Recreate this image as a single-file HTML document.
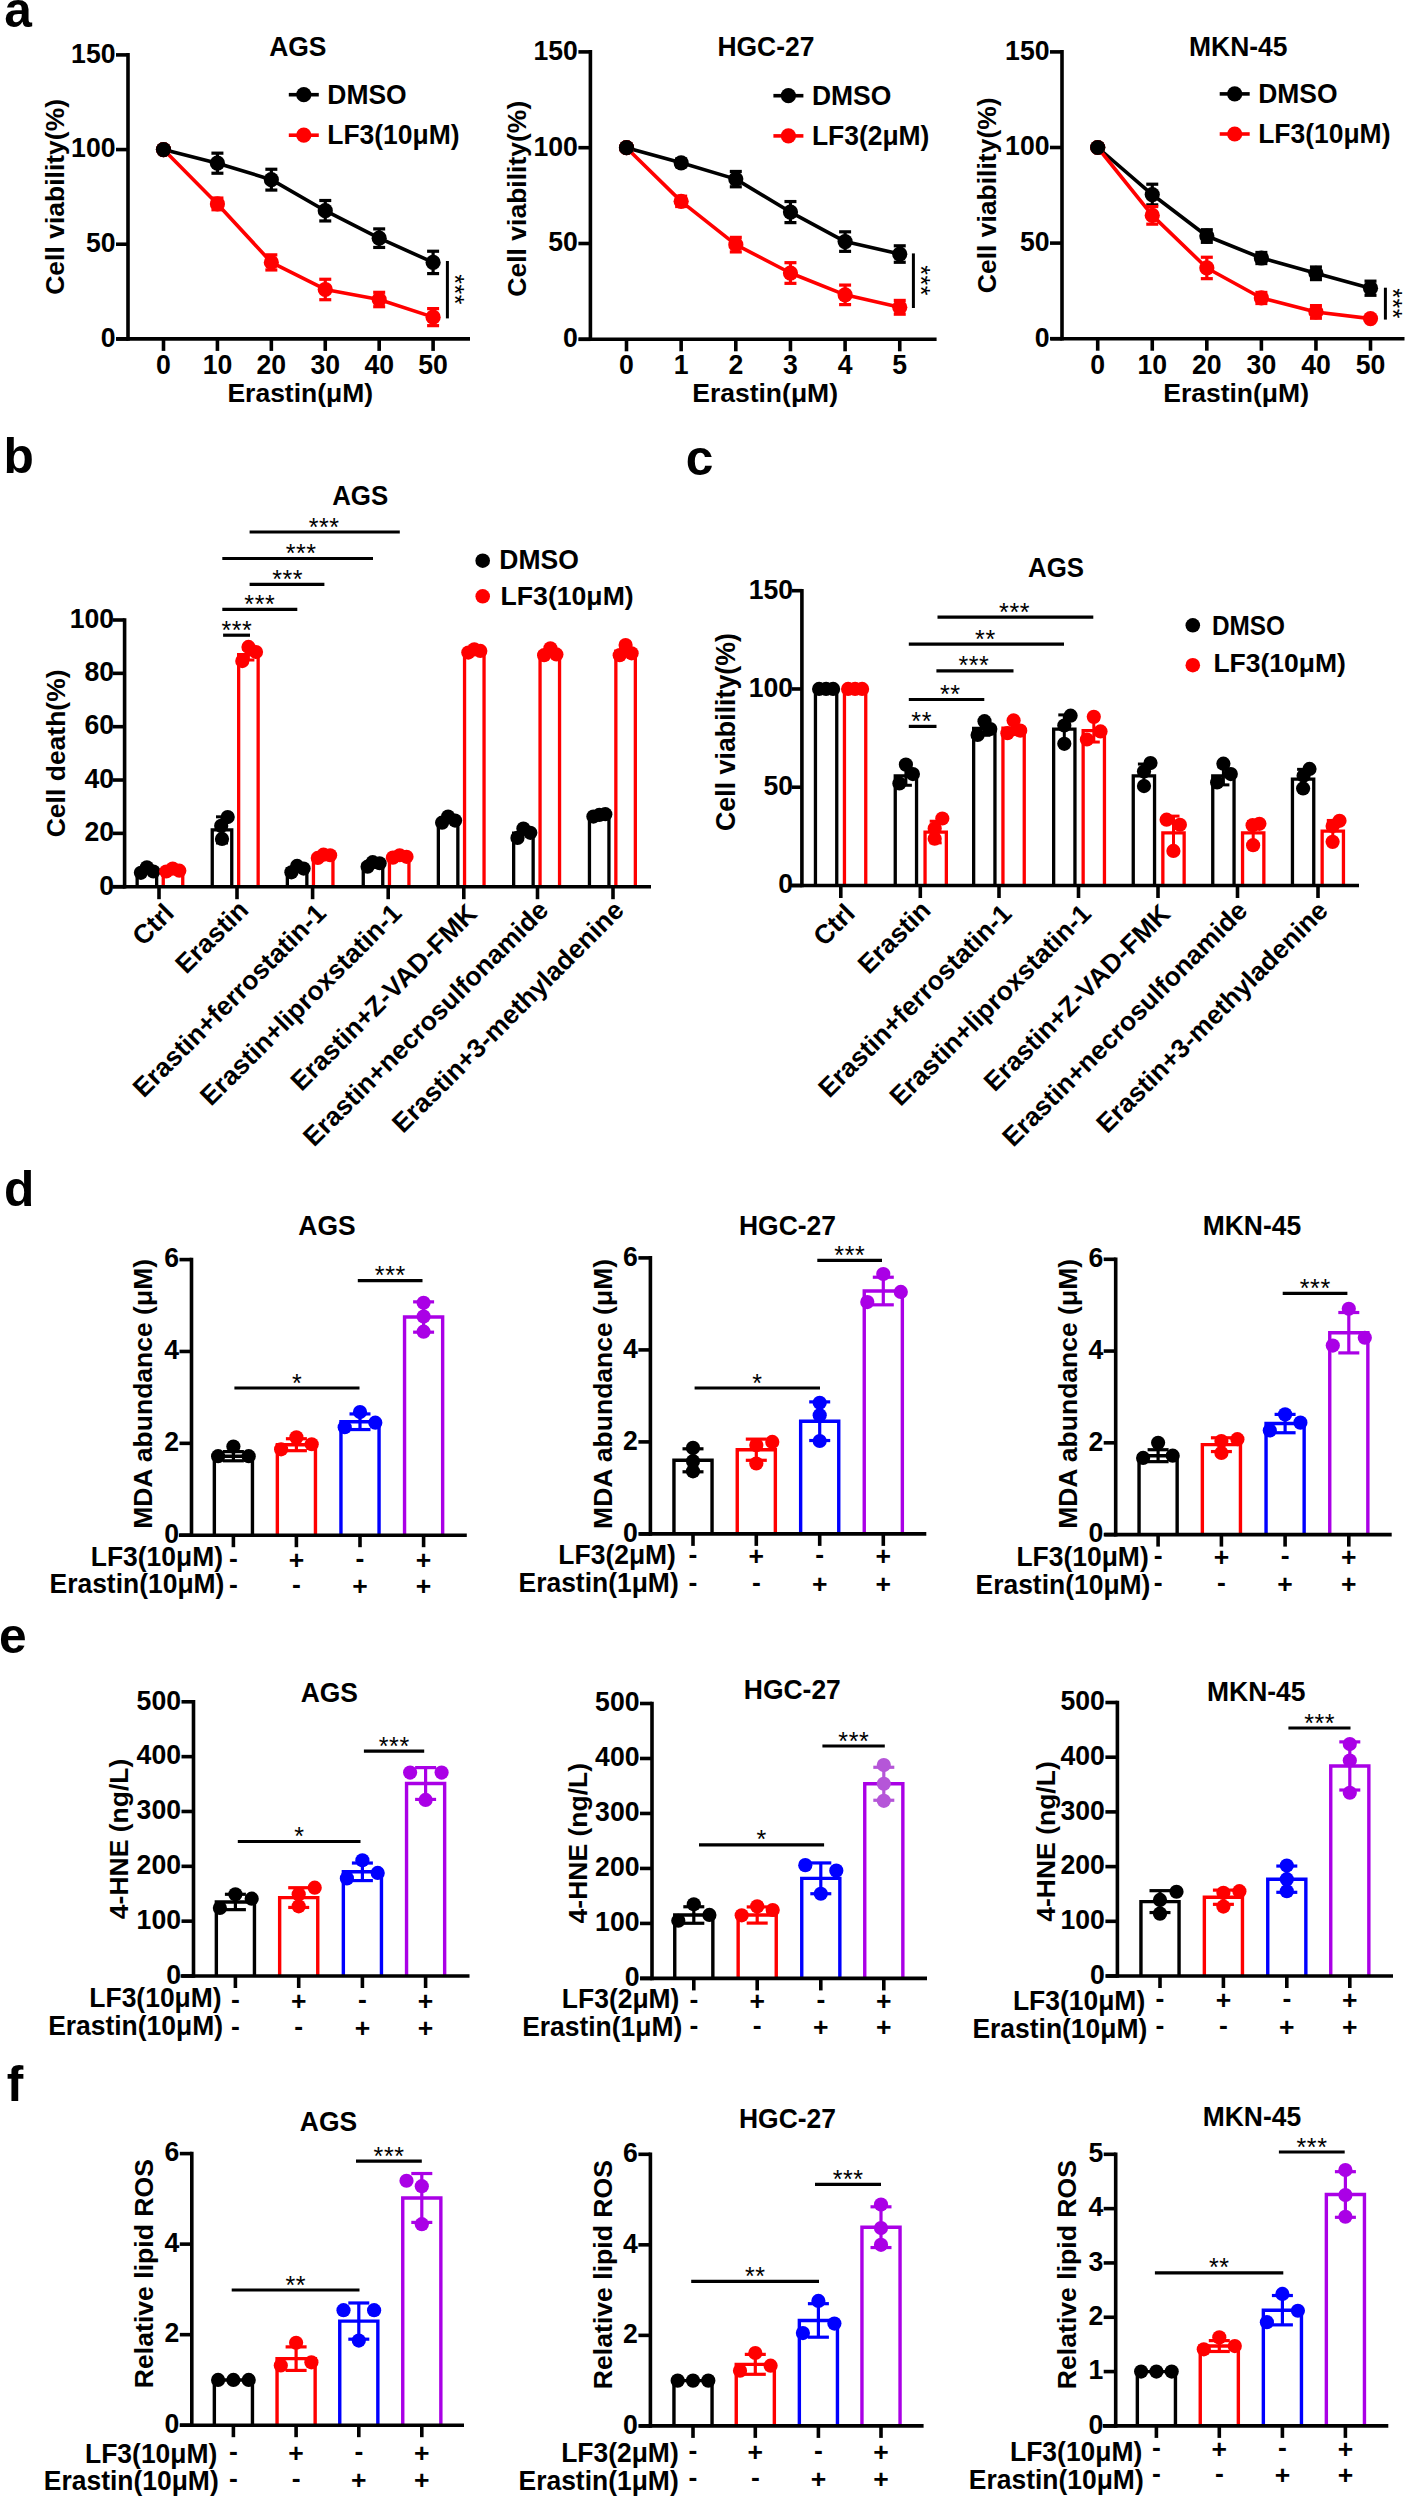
<!DOCTYPE html>
<html><head><meta charset="utf-8"><title>Figure</title>
<style>
html,body{margin:0;padding:0;background:#fff;}
svg{display:block;}
text{font-family:"Liberation Sans", sans-serif;font-weight:bold;}
</style></head>
<body>
<svg width="1409" height="2497" viewBox="0 0 1409 2497">
<rect width="1409" height="2497" fill="#fff"/>
<line x1="116.00" y1="338.90" x2="128.00" y2="338.90" stroke="#000" stroke-width="3.6"/>
<text x="0.00" y="0.00" font-size="27.3" text-anchor="end" transform="translate(115.50 346.70) scale(0.975 1)">0</text>
<line x1="116.00" y1="244.23" x2="128.00" y2="244.23" stroke="#000" stroke-width="3.6"/>
<text x="0.00" y="0.00" font-size="27.3" text-anchor="end" transform="translate(115.50 252.03) scale(0.975 1)">50</text>
<line x1="116.00" y1="149.57" x2="128.00" y2="149.57" stroke="#000" stroke-width="3.6"/>
<text x="0.00" y="0.00" font-size="27.3" text-anchor="end" transform="translate(115.50 157.37) scale(0.975 1)">100</text>
<line x1="116.00" y1="54.90" x2="128.00" y2="54.90" stroke="#000" stroke-width="3.6"/>
<text x="0.00" y="0.00" font-size="27.3" text-anchor="end" transform="translate(115.50 62.70) scale(0.975 1)">150</text>
<line x1="163.50" y1="338.90" x2="163.50" y2="350.90" stroke="#000" stroke-width="3.6"/>
<text x="0.00" y="0.00" font-size="27.3" text-anchor="middle" transform="translate(163.50 373.90) scale(0.975 1)">0</text>
<line x1="217.42" y1="338.90" x2="217.42" y2="350.90" stroke="#000" stroke-width="3.6"/>
<text x="0.00" y="0.00" font-size="27.3" text-anchor="middle" transform="translate(217.42 373.90) scale(0.975 1)">10</text>
<line x1="271.34" y1="338.90" x2="271.34" y2="350.90" stroke="#000" stroke-width="3.6"/>
<text x="0.00" y="0.00" font-size="27.3" text-anchor="middle" transform="translate(271.34 373.90) scale(0.975 1)">20</text>
<line x1="325.26" y1="338.90" x2="325.26" y2="350.90" stroke="#000" stroke-width="3.6"/>
<text x="0.00" y="0.00" font-size="27.3" text-anchor="middle" transform="translate(325.26 373.90) scale(0.975 1)">30</text>
<line x1="379.18" y1="338.90" x2="379.18" y2="350.90" stroke="#000" stroke-width="3.6"/>
<text x="0.00" y="0.00" font-size="27.3" text-anchor="middle" transform="translate(379.18 373.90) scale(0.975 1)">40</text>
<line x1="433.10" y1="338.90" x2="433.10" y2="350.90" stroke="#000" stroke-width="3.6"/>
<text x="0.00" y="0.00" font-size="27.3" text-anchor="middle" transform="translate(433.10 373.90) scale(0.975 1)">50</text>
<text x="300.30" y="401.90" font-size="26.5" text-anchor="middle">Erastin(μM)</text>
<text x="63.90" y="196.90" font-size="26.5" text-anchor="middle" transform="rotate(-90 63.90 196.90)">Cell viability(%)</text>
<text x="0.00" y="0.00" font-size="27.5" text-anchor="middle" transform="translate(297.80 56.40) scale(0.962 1)">AGS</text>
<polyline points="163.50,149.57 217.42,163.20 271.34,179.67 325.26,210.72 379.18,238.17 433.10,262.41" fill="none" stroke="#000" stroke-width="3.6" stroke-linejoin="round"/>
<circle cx="163.50" cy="149.57" r="7.6" fill="#000"/>
<line x1="217.42" y1="153.16" x2="217.42" y2="173.23" stroke="#000" stroke-width="3.2"/>
<line x1="211.42" y1="153.16" x2="223.42" y2="153.16" stroke="#000" stroke-width="3.2"/>
<line x1="211.42" y1="173.23" x2="223.42" y2="173.23" stroke="#000" stroke-width="3.2"/>
<circle cx="217.42" cy="163.20" r="7.6" fill="#000"/>
<line x1="271.34" y1="169.26" x2="271.34" y2="190.08" stroke="#000" stroke-width="3.2"/>
<line x1="265.34" y1="169.26" x2="277.34" y2="169.26" stroke="#000" stroke-width="3.2"/>
<line x1="265.34" y1="190.08" x2="277.34" y2="190.08" stroke="#000" stroke-width="3.2"/>
<circle cx="271.34" cy="179.67" r="7.6" fill="#000"/>
<line x1="325.26" y1="200.50" x2="325.26" y2="220.95" stroke="#000" stroke-width="3.2"/>
<line x1="319.26" y1="200.50" x2="331.26" y2="200.50" stroke="#000" stroke-width="3.2"/>
<line x1="319.26" y1="220.95" x2="331.26" y2="220.95" stroke="#000" stroke-width="3.2"/>
<circle cx="325.26" cy="210.72" r="7.6" fill="#000"/>
<line x1="379.18" y1="228.90" x2="379.18" y2="247.45" stroke="#000" stroke-width="3.2"/>
<line x1="373.18" y1="228.90" x2="385.18" y2="228.90" stroke="#000" stroke-width="3.2"/>
<line x1="373.18" y1="247.45" x2="385.18" y2="247.45" stroke="#000" stroke-width="3.2"/>
<circle cx="379.18" cy="238.17" r="7.6" fill="#000"/>
<line x1="433.10" y1="251.24" x2="433.10" y2="273.58" stroke="#000" stroke-width="3.2"/>
<line x1="427.10" y1="251.24" x2="439.10" y2="251.24" stroke="#000" stroke-width="3.2"/>
<line x1="427.10" y1="273.58" x2="439.10" y2="273.58" stroke="#000" stroke-width="3.2"/>
<circle cx="433.10" cy="262.41" r="7.6" fill="#000"/>
<polyline points="163.50,149.57 217.42,203.91 271.34,262.41 325.26,289.48 379.18,299.52 433.10,317.13" fill="none" stroke="#ff0000" stroke-width="3.6" stroke-linejoin="round"/>
<circle cx="163.50" cy="149.57" r="7.6" fill="#ff0000"/>
<line x1="217.42" y1="198.04" x2="217.42" y2="209.77" stroke="#ff0000" stroke-width="3.2"/>
<line x1="211.42" y1="198.04" x2="223.42" y2="198.04" stroke="#ff0000" stroke-width="3.2"/>
<line x1="211.42" y1="209.77" x2="223.42" y2="209.77" stroke="#ff0000" stroke-width="3.2"/>
<circle cx="217.42" cy="203.91" r="7.6" fill="#ff0000"/>
<line x1="271.34" y1="254.84" x2="271.34" y2="269.98" stroke="#ff0000" stroke-width="3.2"/>
<line x1="265.34" y1="254.84" x2="277.34" y2="254.84" stroke="#ff0000" stroke-width="3.2"/>
<line x1="265.34" y1="269.98" x2="277.34" y2="269.98" stroke="#ff0000" stroke-width="3.2"/>
<circle cx="271.34" cy="262.41" r="7.6" fill="#ff0000"/>
<line x1="325.26" y1="279.26" x2="325.26" y2="299.71" stroke="#ff0000" stroke-width="3.2"/>
<line x1="319.26" y1="279.26" x2="331.26" y2="279.26" stroke="#ff0000" stroke-width="3.2"/>
<line x1="319.26" y1="299.71" x2="331.26" y2="299.71" stroke="#ff0000" stroke-width="3.2"/>
<circle cx="325.26" cy="289.48" r="7.6" fill="#ff0000"/>
<line x1="379.18" y1="292.32" x2="379.18" y2="306.71" stroke="#ff0000" stroke-width="3.2"/>
<line x1="373.18" y1="292.32" x2="385.18" y2="292.32" stroke="#ff0000" stroke-width="3.2"/>
<line x1="373.18" y1="306.71" x2="385.18" y2="306.71" stroke="#ff0000" stroke-width="3.2"/>
<circle cx="379.18" cy="299.52" r="7.6" fill="#ff0000"/>
<line x1="433.10" y1="308.61" x2="433.10" y2="325.65" stroke="#ff0000" stroke-width="3.2"/>
<line x1="427.10" y1="308.61" x2="439.10" y2="308.61" stroke="#ff0000" stroke-width="3.2"/>
<line x1="427.10" y1="325.65" x2="439.10" y2="325.65" stroke="#ff0000" stroke-width="3.2"/>
<circle cx="433.10" cy="317.13" r="7.6" fill="#ff0000"/>
<circle cx="163.50" cy="149.57" r="7.6" fill="#000"/>
<line x1="288.80" y1="94.70" x2="318.80" y2="94.70" stroke="#000" stroke-width="3.6"/>
<circle cx="303.80" cy="94.70" r="7.6" fill="#000"/>
<text x="0.00" y="0.00" font-size="27.5" transform="translate(327.30 103.60) scale(0.962 1)">DMSO</text>
<line x1="288.80" y1="135.20" x2="318.80" y2="135.20" stroke="#ff0000" stroke-width="3.6"/>
<circle cx="303.80" cy="135.20" r="7.6" fill="#ff0000"/>
<text x="0.00" y="0.00" font-size="27.5" transform="translate(327.30 144.10) scale(0.962 1)">LF3(10μM)</text>
<line x1="447.40" y1="261.00" x2="447.40" y2="318.40" stroke="#000" stroke-width="3.0"/>
<text x="445.90" y="289.70" font-size="25" text-anchor="middle" style="font-weight:normal" transform="rotate(90 445.90 289.70)" letter-spacing="0.6">***</text>
<line x1="578.40" y1="339.30" x2="590.40" y2="339.30" stroke="#000" stroke-width="3.6"/>
<text x="0.00" y="0.00" font-size="27.3" text-anchor="end" transform="translate(577.90 347.10) scale(0.975 1)">0</text>
<line x1="578.40" y1="243.50" x2="590.40" y2="243.50" stroke="#000" stroke-width="3.6"/>
<text x="0.00" y="0.00" font-size="27.3" text-anchor="end" transform="translate(577.90 251.30) scale(0.975 1)">50</text>
<line x1="578.40" y1="147.70" x2="590.40" y2="147.70" stroke="#000" stroke-width="3.6"/>
<text x="0.00" y="0.00" font-size="27.3" text-anchor="end" transform="translate(577.90 155.50) scale(0.975 1)">100</text>
<line x1="578.40" y1="51.90" x2="590.40" y2="51.90" stroke="#000" stroke-width="3.6"/>
<text x="0.00" y="0.00" font-size="27.3" text-anchor="end" transform="translate(577.90 59.70) scale(0.975 1)">150</text>
<line x1="626.50" y1="339.30" x2="626.50" y2="351.30" stroke="#000" stroke-width="3.6"/>
<text x="0.00" y="0.00" font-size="27.3" text-anchor="middle" transform="translate(626.50 374.30) scale(0.975 1)">0</text>
<line x1="681.15" y1="339.30" x2="681.15" y2="351.30" stroke="#000" stroke-width="3.6"/>
<text x="0.00" y="0.00" font-size="27.3" text-anchor="middle" transform="translate(681.15 374.30) scale(0.975 1)">1</text>
<line x1="735.80" y1="339.30" x2="735.80" y2="351.30" stroke="#000" stroke-width="3.6"/>
<text x="0.00" y="0.00" font-size="27.3" text-anchor="middle" transform="translate(735.80 374.30) scale(0.975 1)">2</text>
<line x1="790.45" y1="339.30" x2="790.45" y2="351.30" stroke="#000" stroke-width="3.6"/>
<text x="0.00" y="0.00" font-size="27.3" text-anchor="middle" transform="translate(790.45 374.30) scale(0.975 1)">3</text>
<line x1="845.10" y1="339.30" x2="845.10" y2="351.30" stroke="#000" stroke-width="3.6"/>
<text x="0.00" y="0.00" font-size="27.3" text-anchor="middle" transform="translate(845.10 374.30) scale(0.975 1)">4</text>
<line x1="899.75" y1="339.30" x2="899.75" y2="351.30" stroke="#000" stroke-width="3.6"/>
<text x="0.00" y="0.00" font-size="27.3" text-anchor="middle" transform="translate(899.75 374.30) scale(0.975 1)">5</text>
<text x="765.12" y="402.30" font-size="26.5" text-anchor="middle">Erastin(μM)</text>
<text x="526.50" y="198.70" font-size="26.5" text-anchor="middle" transform="rotate(-90 526.50 198.70)">Cell viability(%)</text>
<text x="0.00" y="0.00" font-size="27.5" text-anchor="middle" transform="translate(765.90 56.00) scale(0.962 1)">HGC-27</text>
<polyline points="626.50,147.70 681.15,162.84 735.80,179.12 790.45,212.08 845.10,241.58 899.75,254.04" fill="none" stroke="#000" stroke-width="3.6" stroke-linejoin="round"/>
<circle cx="626.50" cy="147.70" r="7.6" fill="#000"/>
<line x1="681.15" y1="159.00" x2="681.15" y2="166.67" stroke="#000" stroke-width="3.2"/>
<line x1="675.15" y1="159.00" x2="687.15" y2="159.00" stroke="#000" stroke-width="3.2"/>
<line x1="675.15" y1="166.67" x2="687.15" y2="166.67" stroke="#000" stroke-width="3.2"/>
<circle cx="681.15" cy="162.84" r="7.6" fill="#000"/>
<line x1="735.80" y1="171.46" x2="735.80" y2="186.79" stroke="#000" stroke-width="3.2"/>
<line x1="729.80" y1="171.46" x2="741.80" y2="171.46" stroke="#000" stroke-width="3.2"/>
<line x1="729.80" y1="186.79" x2="741.80" y2="186.79" stroke="#000" stroke-width="3.2"/>
<circle cx="735.80" cy="179.12" r="7.6" fill="#000"/>
<line x1="790.45" y1="201.54" x2="790.45" y2="222.62" stroke="#000" stroke-width="3.2"/>
<line x1="784.45" y1="201.54" x2="796.45" y2="201.54" stroke="#000" stroke-width="3.2"/>
<line x1="784.45" y1="222.62" x2="796.45" y2="222.62" stroke="#000" stroke-width="3.2"/>
<circle cx="790.45" cy="212.08" r="7.6" fill="#000"/>
<line x1="845.10" y1="231.81" x2="845.10" y2="251.36" stroke="#000" stroke-width="3.2"/>
<line x1="839.10" y1="231.81" x2="851.10" y2="231.81" stroke="#000" stroke-width="3.2"/>
<line x1="839.10" y1="251.36" x2="851.10" y2="251.36" stroke="#000" stroke-width="3.2"/>
<circle cx="845.10" cy="241.58" r="7.6" fill="#000"/>
<line x1="899.75" y1="245.80" x2="899.75" y2="262.28" stroke="#000" stroke-width="3.2"/>
<line x1="893.75" y1="245.80" x2="905.75" y2="245.80" stroke="#000" stroke-width="3.2"/>
<line x1="893.75" y1="262.28" x2="905.75" y2="262.28" stroke="#000" stroke-width="3.2"/>
<circle cx="899.75" cy="254.04" r="7.6" fill="#000"/>
<polyline points="626.50,147.70 681.15,201.35 735.80,244.65 790.45,273.01 845.10,294.85 899.75,307.30" fill="none" stroke="#ff0000" stroke-width="3.6" stroke-linejoin="round"/>
<circle cx="626.50" cy="147.70" r="7.6" fill="#ff0000"/>
<line x1="681.15" y1="196.17" x2="681.15" y2="206.52" stroke="#ff0000" stroke-width="3.2"/>
<line x1="675.15" y1="196.17" x2="687.15" y2="196.17" stroke="#ff0000" stroke-width="3.2"/>
<line x1="675.15" y1="206.52" x2="687.15" y2="206.52" stroke="#ff0000" stroke-width="3.2"/>
<circle cx="681.15" cy="201.35" r="7.6" fill="#ff0000"/>
<line x1="735.80" y1="237.37" x2="735.80" y2="251.93" stroke="#ff0000" stroke-width="3.2"/>
<line x1="729.80" y1="237.37" x2="741.80" y2="237.37" stroke="#ff0000" stroke-width="3.2"/>
<line x1="729.80" y1="251.93" x2="741.80" y2="251.93" stroke="#ff0000" stroke-width="3.2"/>
<circle cx="735.80" cy="244.65" r="7.6" fill="#ff0000"/>
<line x1="790.45" y1="262.66" x2="790.45" y2="283.35" stroke="#ff0000" stroke-width="3.2"/>
<line x1="784.45" y1="262.66" x2="796.45" y2="262.66" stroke="#ff0000" stroke-width="3.2"/>
<line x1="784.45" y1="283.35" x2="796.45" y2="283.35" stroke="#ff0000" stroke-width="3.2"/>
<circle cx="790.45" cy="273.01" r="7.6" fill="#ff0000"/>
<line x1="845.10" y1="285.08" x2="845.10" y2="304.62" stroke="#ff0000" stroke-width="3.2"/>
<line x1="839.10" y1="285.08" x2="851.10" y2="285.08" stroke="#ff0000" stroke-width="3.2"/>
<line x1="839.10" y1="304.62" x2="851.10" y2="304.62" stroke="#ff0000" stroke-width="3.2"/>
<circle cx="845.10" cy="294.85" r="7.6" fill="#ff0000"/>
<line x1="899.75" y1="300.41" x2="899.75" y2="314.20" stroke="#ff0000" stroke-width="3.2"/>
<line x1="893.75" y1="300.41" x2="905.75" y2="300.41" stroke="#ff0000" stroke-width="3.2"/>
<line x1="893.75" y1="314.20" x2="905.75" y2="314.20" stroke="#ff0000" stroke-width="3.2"/>
<circle cx="899.75" cy="307.30" r="7.6" fill="#ff0000"/>
<circle cx="626.50" cy="147.70" r="7.6" fill="#000"/>
<line x1="773.40" y1="95.70" x2="803.40" y2="95.70" stroke="#000" stroke-width="3.6"/>
<circle cx="788.40" cy="95.70" r="7.6" fill="#000"/>
<text x="0.00" y="0.00" font-size="27.5" transform="translate(811.90 104.60) scale(0.962 1)">DMSO</text>
<line x1="773.40" y1="135.90" x2="803.40" y2="135.90" stroke="#ff0000" stroke-width="3.6"/>
<circle cx="788.40" cy="135.90" r="7.6" fill="#ff0000"/>
<text x="0.00" y="0.00" font-size="27.5" transform="translate(811.90 144.80) scale(0.962 1)">LF3(2μM)</text>
<line x1="913.40" y1="253.40" x2="913.40" y2="308.00" stroke="#000" stroke-width="3.0"/>
<text x="911.90" y="280.70" font-size="25" text-anchor="middle" style="font-weight:normal" transform="rotate(90 911.90 280.70)" letter-spacing="0.6">***</text>
<line x1="1050.00" y1="338.70" x2="1062.00" y2="338.70" stroke="#000" stroke-width="3.6"/>
<text x="0.00" y="0.00" font-size="27.3" text-anchor="end" transform="translate(1049.50 346.50) scale(0.975 1)">0</text>
<line x1="1050.00" y1="243.10" x2="1062.00" y2="243.10" stroke="#000" stroke-width="3.6"/>
<text x="0.00" y="0.00" font-size="27.3" text-anchor="end" transform="translate(1049.50 250.90) scale(0.975 1)">50</text>
<line x1="1050.00" y1="147.50" x2="1062.00" y2="147.50" stroke="#000" stroke-width="3.6"/>
<text x="0.00" y="0.00" font-size="27.3" text-anchor="end" transform="translate(1049.50 155.30) scale(0.975 1)">100</text>
<line x1="1050.00" y1="51.90" x2="1062.00" y2="51.90" stroke="#000" stroke-width="3.6"/>
<text x="0.00" y="0.00" font-size="27.3" text-anchor="end" transform="translate(1049.50 59.70) scale(0.975 1)">150</text>
<line x1="1097.70" y1="338.70" x2="1097.70" y2="350.70" stroke="#000" stroke-width="3.6"/>
<text x="0.00" y="0.00" font-size="27.3" text-anchor="middle" transform="translate(1097.70 373.70) scale(0.975 1)">0</text>
<line x1="1152.26" y1="338.70" x2="1152.26" y2="350.70" stroke="#000" stroke-width="3.6"/>
<text x="0.00" y="0.00" font-size="27.3" text-anchor="middle" transform="translate(1152.26 373.70) scale(0.975 1)">10</text>
<line x1="1206.82" y1="338.70" x2="1206.82" y2="350.70" stroke="#000" stroke-width="3.6"/>
<text x="0.00" y="0.00" font-size="27.3" text-anchor="middle" transform="translate(1206.82 373.70) scale(0.975 1)">20</text>
<line x1="1261.38" y1="338.70" x2="1261.38" y2="350.70" stroke="#000" stroke-width="3.6"/>
<text x="0.00" y="0.00" font-size="27.3" text-anchor="middle" transform="translate(1261.38 373.70) scale(0.975 1)">30</text>
<line x1="1315.94" y1="338.70" x2="1315.94" y2="350.70" stroke="#000" stroke-width="3.6"/>
<text x="0.00" y="0.00" font-size="27.3" text-anchor="middle" transform="translate(1315.94 373.70) scale(0.975 1)">40</text>
<line x1="1370.50" y1="338.70" x2="1370.50" y2="350.70" stroke="#000" stroke-width="3.6"/>
<text x="0.00" y="0.00" font-size="27.3" text-anchor="middle" transform="translate(1370.50 373.70) scale(0.975 1)">50</text>
<text x="1236.10" y="401.70" font-size="26.5" text-anchor="middle">Erastin(μM)</text>
<text x="996.50" y="195.30" font-size="26.5" text-anchor="middle" transform="rotate(-90 996.50 195.30)">Cell viability(%)</text>
<text x="0.00" y="0.00" font-size="27.5" text-anchor="middle" transform="translate(1238.30 55.70) scale(0.962 1)">MKN-45</text>
<polyline points="1097.70,147.50 1152.26,194.54 1206.82,236.03 1261.38,258.01 1315.94,273.31 1370.50,288.22" fill="none" stroke="#000" stroke-width="3.6" stroke-linejoin="round"/>
<circle cx="1097.70" cy="147.50" r="7.6" fill="#000"/>
<line x1="1152.26" y1="184.21" x2="1152.26" y2="204.86" stroke="#000" stroke-width="3.2"/>
<line x1="1146.26" y1="184.21" x2="1158.26" y2="184.21" stroke="#000" stroke-width="3.2"/>
<line x1="1146.26" y1="204.86" x2="1158.26" y2="204.86" stroke="#000" stroke-width="3.2"/>
<circle cx="1152.26" cy="194.54" r="7.6" fill="#000"/>
<line x1="1206.82" y1="229.72" x2="1206.82" y2="242.34" stroke="#000" stroke-width="3.2"/>
<line x1="1200.82" y1="229.72" x2="1212.82" y2="229.72" stroke="#000" stroke-width="3.2"/>
<line x1="1200.82" y1="242.34" x2="1212.82" y2="242.34" stroke="#000" stroke-width="3.2"/>
<circle cx="1206.82" cy="236.03" r="7.6" fill="#000"/>
<line x1="1261.38" y1="252.47" x2="1261.38" y2="263.56" stroke="#000" stroke-width="3.2"/>
<line x1="1255.38" y1="252.47" x2="1267.38" y2="252.47" stroke="#000" stroke-width="3.2"/>
<line x1="1255.38" y1="263.56" x2="1267.38" y2="263.56" stroke="#000" stroke-width="3.2"/>
<circle cx="1261.38" cy="258.01" r="7.6" fill="#000"/>
<line x1="1315.94" y1="267.00" x2="1315.94" y2="279.62" stroke="#000" stroke-width="3.2"/>
<line x1="1309.94" y1="267.00" x2="1321.94" y2="267.00" stroke="#000" stroke-width="3.2"/>
<line x1="1309.94" y1="279.62" x2="1321.94" y2="279.62" stroke="#000" stroke-width="3.2"/>
<circle cx="1315.94" cy="273.31" r="7.6" fill="#000"/>
<line x1="1370.50" y1="281.15" x2="1370.50" y2="295.30" stroke="#000" stroke-width="3.2"/>
<line x1="1364.50" y1="281.15" x2="1376.50" y2="281.15" stroke="#000" stroke-width="3.2"/>
<line x1="1364.50" y1="295.30" x2="1376.50" y2="295.30" stroke="#000" stroke-width="3.2"/>
<circle cx="1370.50" cy="288.22" r="7.6" fill="#000"/>
<polyline points="1097.70,147.50 1152.26,215.38 1206.82,267.96 1261.38,297.97 1315.94,311.93 1370.50,318.62" fill="none" stroke="#ff0000" stroke-width="3.6" stroke-linejoin="round"/>
<circle cx="1097.70" cy="147.50" r="7.6" fill="#ff0000"/>
<line x1="1152.26" y1="206.58" x2="1152.26" y2="224.17" stroke="#ff0000" stroke-width="3.2"/>
<line x1="1146.26" y1="206.58" x2="1158.26" y2="206.58" stroke="#ff0000" stroke-width="3.2"/>
<line x1="1146.26" y1="224.17" x2="1158.26" y2="224.17" stroke="#ff0000" stroke-width="3.2"/>
<circle cx="1152.26" cy="215.38" r="7.6" fill="#ff0000"/>
<line x1="1206.82" y1="257.25" x2="1206.82" y2="278.66" stroke="#ff0000" stroke-width="3.2"/>
<line x1="1200.82" y1="257.25" x2="1212.82" y2="257.25" stroke="#ff0000" stroke-width="3.2"/>
<line x1="1200.82" y1="278.66" x2="1212.82" y2="278.66" stroke="#ff0000" stroke-width="3.2"/>
<circle cx="1206.82" cy="267.96" r="7.6" fill="#ff0000"/>
<line x1="1261.38" y1="292.43" x2="1261.38" y2="303.52" stroke="#ff0000" stroke-width="3.2"/>
<line x1="1255.38" y1="292.43" x2="1267.38" y2="292.43" stroke="#ff0000" stroke-width="3.2"/>
<line x1="1255.38" y1="303.52" x2="1267.38" y2="303.52" stroke="#ff0000" stroke-width="3.2"/>
<circle cx="1261.38" cy="297.97" r="7.6" fill="#ff0000"/>
<line x1="1315.94" y1="305.62" x2="1315.94" y2="318.24" stroke="#ff0000" stroke-width="3.2"/>
<line x1="1309.94" y1="305.62" x2="1321.94" y2="305.62" stroke="#ff0000" stroke-width="3.2"/>
<line x1="1309.94" y1="318.24" x2="1321.94" y2="318.24" stroke="#ff0000" stroke-width="3.2"/>
<circle cx="1315.94" cy="311.93" r="7.6" fill="#ff0000"/>
<line x1="1370.50" y1="316.71" x2="1370.50" y2="320.54" stroke="#ff0000" stroke-width="3.2"/>
<line x1="1364.50" y1="316.71" x2="1376.50" y2="316.71" stroke="#ff0000" stroke-width="3.2"/>
<line x1="1364.50" y1="320.54" x2="1376.50" y2="320.54" stroke="#ff0000" stroke-width="3.2"/>
<circle cx="1370.50" cy="318.62" r="7.6" fill="#ff0000"/>
<circle cx="1097.70" cy="147.50" r="7.6" fill="#000"/>
<line x1="1219.70" y1="93.90" x2="1249.70" y2="93.90" stroke="#000" stroke-width="3.6"/>
<circle cx="1234.70" cy="93.90" r="7.6" fill="#000"/>
<text x="0.00" y="0.00" font-size="27.5" transform="translate(1258.20 102.80) scale(0.962 1)">DMSO</text>
<line x1="1219.70" y1="134.00" x2="1249.70" y2="134.00" stroke="#ff0000" stroke-width="3.6"/>
<circle cx="1234.70" cy="134.00" r="7.6" fill="#ff0000"/>
<text x="0.00" y="0.00" font-size="27.5" transform="translate(1258.20 142.90) scale(0.962 1)">LF3(10μM)</text>
<line x1="1385.40" y1="287.70" x2="1385.40" y2="319.60" stroke="#000" stroke-width="3.0"/>
<text x="1383.90" y="303.65" font-size="25" text-anchor="middle" style="font-weight:normal" transform="rotate(90 1383.90 303.65)" letter-spacing="0.6">***</text>
<text x="4.20" y="27.35" font-size="49.7">a</text>
<text x="3.60" y="472.55" font-size="49.7">b</text>
<text x="685.80" y="475.35" font-size="49.7">c</text>
<text x="3.90" y="1206.45" font-size="49.7">d</text>
<text x="-1.00" y="1653.25" font-size="49.7">e</text>
<text x="6.80" y="2101.30" font-size="49.7">f</text>
<line x1="112.80" y1="886.70" x2="124.60" y2="886.70" stroke="#000" stroke-width="3.6"/>
<text x="0.00" y="0.00" font-size="27.3" text-anchor="end" transform="translate(114.10 894.50) scale(0.975 1)">0</text>
<line x1="112.80" y1="833.36" x2="124.60" y2="833.36" stroke="#000" stroke-width="3.6"/>
<text x="0.00" y="0.00" font-size="27.3" text-anchor="end" transform="translate(114.10 841.16) scale(0.975 1)">20</text>
<line x1="112.80" y1="780.02" x2="124.60" y2="780.02" stroke="#000" stroke-width="3.6"/>
<text x="0.00" y="0.00" font-size="27.3" text-anchor="end" transform="translate(114.10 787.82) scale(0.975 1)">40</text>
<line x1="112.80" y1="726.68" x2="124.60" y2="726.68" stroke="#000" stroke-width="3.6"/>
<text x="0.00" y="0.00" font-size="27.3" text-anchor="end" transform="translate(114.10 734.48) scale(0.975 1)">60</text>
<line x1="112.80" y1="673.34" x2="124.60" y2="673.34" stroke="#000" stroke-width="3.6"/>
<text x="0.00" y="0.00" font-size="27.3" text-anchor="end" transform="translate(114.10 681.14) scale(0.975 1)">80</text>
<line x1="112.80" y1="620.00" x2="124.60" y2="620.00" stroke="#000" stroke-width="3.6"/>
<text x="0.00" y="0.00" font-size="27.3" text-anchor="end" transform="translate(114.10 627.80) scale(0.975 1)">100</text>
<path d="M137.15,886.70V870.52H156.65V886.70" fill="#fff" stroke="#000" stroke-width="3.3"/>
<circle cx="140.90" cy="872.83" r="7.1" fill="#000"/>
<circle cx="146.90" cy="867.23" r="7.1" fill="#000"/>
<circle cx="153.40" cy="871.50" r="7.1" fill="#000"/>
<path d="M163.25,886.70V870.25H182.75V886.70" fill="#fff" stroke="#ff0000" stroke-width="3.3"/>
<circle cx="166.20" cy="871.50" r="7.1" fill="#ff0000"/>
<circle cx="172.70" cy="868.56" r="7.1" fill="#ff0000"/>
<circle cx="179.30" cy="870.70" r="7.1" fill="#ff0000"/>
<line x1="159.00" y1="886.70" x2="159.00" y2="899.20" stroke="#000" stroke-width="3.6"/>
<text x="175.55" y="914.72" font-size="26.5" text-anchor="end" transform="rotate(-45 175.55 914.72)">Ctrl</text>
<path d="M212.25,886.70V829.89H231.75V886.70" fill="#fff" stroke="#000" stroke-width="3.3"/>
<line x1="222.00" y1="842.96" x2="222.00" y2="816.82" stroke="#000" stroke-width="3.0"/>
<line x1="216.00" y1="816.82" x2="228.00" y2="816.82" stroke="#000" stroke-width="3.0"/>
<line x1="216.00" y1="842.96" x2="228.00" y2="842.96" stroke="#000" stroke-width="3.0"/>
<circle cx="222.00" cy="838.96" r="7.1" fill="#000"/>
<circle cx="221.20" cy="825.89" r="7.1" fill="#000"/>
<circle cx="227.70" cy="817.09" r="7.1" fill="#000"/>
<path d="M238.65,886.70V654.67H258.15V886.70" fill="#fff" stroke="#ff0000" stroke-width="3.3"/>
<line x1="248.40" y1="660.00" x2="248.40" y2="649.34" stroke="#ff0000" stroke-width="3.0"/>
<line x1="242.40" y1="649.34" x2="254.40" y2="649.34" stroke="#ff0000" stroke-width="3.0"/>
<line x1="242.40" y1="660.00" x2="254.40" y2="660.00" stroke="#ff0000" stroke-width="3.0"/>
<circle cx="242.30" cy="661.07" r="7.1" fill="#ff0000"/>
<circle cx="248.50" cy="646.94" r="7.1" fill="#ff0000"/>
<circle cx="256.00" cy="652.00" r="7.1" fill="#ff0000"/>
<line x1="237.00" y1="886.70" x2="237.00" y2="899.20" stroke="#000" stroke-width="3.6"/>
<text x="249.86" y="911.48" font-size="26.5" text-anchor="end" transform="rotate(-45 249.86 911.48)">Erastin</text>
<path d="M287.35,886.70V868.92H306.85V886.70" fill="#fff" stroke="#000" stroke-width="3.3"/>
<circle cx="291.40" cy="872.30" r="7.1" fill="#000"/>
<circle cx="297.10" cy="865.90" r="7.1" fill="#000"/>
<circle cx="303.60" cy="868.56" r="7.1" fill="#000"/>
<path d="M313.45,886.70V855.94H332.95V886.70" fill="#fff" stroke="#ff0000" stroke-width="3.3"/>
<circle cx="317.80" cy="857.90" r="7.1" fill="#ff0000"/>
<circle cx="323.50" cy="854.70" r="7.1" fill="#ff0000"/>
<circle cx="330.10" cy="855.23" r="7.1" fill="#ff0000"/>
<line x1="312.60" y1="886.70" x2="312.60" y2="899.20" stroke="#000" stroke-width="3.6"/>
<text x="327.62" y="914.94" font-size="26.5" text-anchor="end" transform="rotate(-45 327.62 914.94)">Erastin+ferrostatin-1</text>
<path d="M363.25,886.70V864.03H382.75V886.70" fill="#fff" stroke="#000" stroke-width="3.3"/>
<circle cx="367.60" cy="866.70" r="7.1" fill="#000"/>
<circle cx="372.70" cy="862.16" r="7.1" fill="#000"/>
<circle cx="379.60" cy="863.23" r="7.1" fill="#000"/>
<path d="M389.45,886.70V856.56H408.95V886.70" fill="#fff" stroke="#ff0000" stroke-width="3.3"/>
<circle cx="392.90" cy="857.63" r="7.1" fill="#ff0000"/>
<circle cx="399.70" cy="855.23" r="7.1" fill="#ff0000"/>
<circle cx="406.50" cy="856.83" r="7.1" fill="#ff0000"/>
<line x1="388.20" y1="886.70" x2="388.20" y2="899.20" stroke="#000" stroke-width="3.6"/>
<text x="403.22" y="914.94" font-size="26.5" text-anchor="end" transform="rotate(-45 403.22 914.94)">Erastin+liproxstatin-1</text>
<path d="M438.35,886.70V819.94H457.85V886.70" fill="#fff" stroke="#000" stroke-width="3.3"/>
<circle cx="442.10" cy="822.69" r="7.1" fill="#000"/>
<circle cx="448.10" cy="816.56" r="7.1" fill="#000"/>
<circle cx="455.10" cy="820.56" r="7.1" fill="#000"/>
<path d="M464.55,886.70V650.94H484.05V886.70" fill="#fff" stroke="#ff0000" stroke-width="3.3"/>
<circle cx="468.30" cy="652.54" r="7.1" fill="#ff0000"/>
<circle cx="474.30" cy="649.34" r="7.1" fill="#ff0000"/>
<circle cx="480.30" cy="650.94" r="7.1" fill="#ff0000"/>
<line x1="463.80" y1="886.70" x2="463.80" y2="899.20" stroke="#000" stroke-width="3.6"/>
<text x="478.56" y="915.20" font-size="26.5" text-anchor="end" transform="rotate(-45 478.56 915.20)">Erastin+Z-VAD-FMK</text>
<path d="M513.65,886.70V833.09H533.15V886.70" fill="#fff" stroke="#000" stroke-width="3.3"/>
<circle cx="517.50" cy="837.89" r="7.1" fill="#000"/>
<circle cx="523.40" cy="828.56" r="7.1" fill="#000"/>
<circle cx="530.30" cy="832.83" r="7.1" fill="#000"/>
<path d="M540.05,886.70V652.63H559.55V886.70" fill="#fff" stroke="#ff0000" stroke-width="3.3"/>
<circle cx="544.10" cy="655.20" r="7.1" fill="#ff0000"/>
<circle cx="550.40" cy="648.27" r="7.1" fill="#ff0000"/>
<circle cx="556.40" cy="654.40" r="7.1" fill="#ff0000"/>
<line x1="537.50" y1="886.70" x2="537.50" y2="899.20" stroke="#000" stroke-width="3.6"/>
<text x="549.90" y="911.94" font-size="26.5" text-anchor="end" transform="rotate(-45 549.90 911.94)">Erastin+necrosulfonamide</text>
<path d="M589.45,886.70V815.22H608.95V886.70" fill="#fff" stroke="#000" stroke-width="3.3"/>
<circle cx="593.40" cy="816.56" r="7.1" fill="#000"/>
<circle cx="599.30" cy="814.96" r="7.1" fill="#000"/>
<circle cx="605.30" cy="814.16" r="7.1" fill="#000"/>
<path d="M615.85,886.70V651.20H635.35V886.70" fill="#fff" stroke="#ff0000" stroke-width="3.3"/>
<circle cx="619.70" cy="655.20" r="7.1" fill="#ff0000"/>
<circle cx="625.60" cy="645.07" r="7.1" fill="#ff0000"/>
<circle cx="631.60" cy="653.34" r="7.1" fill="#ff0000"/>
<line x1="613.00" y1="886.70" x2="613.00" y2="899.20" stroke="#000" stroke-width="3.6"/>
<text x="625.40" y="911.94" font-size="26.5" text-anchor="end" transform="rotate(-45 625.40 911.94)">Erastin+3-methyladenine</text>
<line x1="249.60" y1="532.00" x2="399.80" y2="532.00" stroke="#000" stroke-width="3.2"/>
<text x="324.20" y="535.50" font-size="25" text-anchor="middle" style="font-weight:normal" letter-spacing="0.6">***</text>
<line x1="222.30" y1="558.50" x2="373.00" y2="558.50" stroke="#000" stroke-width="3.2"/>
<text x="301.15" y="562.00" font-size="25" text-anchor="middle" style="font-weight:normal" letter-spacing="0.6">***</text>
<line x1="249.60" y1="584.30" x2="324.40" y2="584.30" stroke="#000" stroke-width="3.2"/>
<text x="287.70" y="587.80" font-size="25" text-anchor="middle" style="font-weight:normal" letter-spacing="0.6">***</text>
<line x1="222.30" y1="609.30" x2="297.30" y2="609.30" stroke="#000" stroke-width="3.2"/>
<text x="259.80" y="612.80" font-size="25" text-anchor="middle" style="font-weight:normal" letter-spacing="0.6">***</text>
<line x1="223.10" y1="635.20" x2="250.00" y2="635.20" stroke="#000" stroke-width="3.2"/>
<text x="236.95" y="638.70" font-size="25" text-anchor="middle" style="font-weight:normal" letter-spacing="0.6">***</text>
<text x="360.20" y="505.00" font-size="27.5" text-anchor="middle" textLength="56" lengthAdjust="spacingAndGlyphs">AGS</text>
<circle cx="482.70" cy="560.70" r="7.3" fill="#000"/>
<text x="499.30" y="569.10" font-size="27.5" textLength="79.5" lengthAdjust="spacingAndGlyphs">DMSO</text>
<circle cx="482.70" cy="596.30" r="7.3" fill="#ff0000"/>
<text x="500.60" y="605.30" font-size="26.5" textLength="133.1" lengthAdjust="spacingAndGlyphs">LF3(10μM)</text>
<text x="65.00" y="753.35" font-size="26.5" text-anchor="middle" transform="rotate(-90 65.00 753.35)">Cell death(%)</text>
<line x1="792.00" y1="885.50" x2="801.90" y2="885.50" stroke="#000" stroke-width="3.6"/>
<text x="0.00" y="0.00" font-size="27.3" text-anchor="end" transform="translate(793.10 893.30) scale(0.975 1)">0</text>
<line x1="792.00" y1="787.23" x2="801.90" y2="787.23" stroke="#000" stroke-width="3.6"/>
<text x="0.00" y="0.00" font-size="27.3" text-anchor="end" transform="translate(793.10 795.03) scale(0.975 1)">50</text>
<line x1="792.00" y1="688.97" x2="801.90" y2="688.97" stroke="#000" stroke-width="3.6"/>
<text x="0.00" y="0.00" font-size="27.3" text-anchor="end" transform="translate(793.10 696.77) scale(0.975 1)">100</text>
<line x1="792.00" y1="590.70" x2="801.90" y2="590.70" stroke="#000" stroke-width="3.6"/>
<text x="0.00" y="0.00" font-size="27.3" text-anchor="end" transform="translate(793.10 598.50) scale(0.975 1)">150</text>
<path d="M815.45,885.50V688.97H836.75V885.50" fill="#fff" stroke="#000" stroke-width="3.3"/>
<circle cx="819.10" cy="688.97" r="7.1" fill="#000"/>
<circle cx="826.10" cy="688.97" r="7.1" fill="#000"/>
<circle cx="833.10" cy="688.97" r="7.1" fill="#000"/>
<path d="M844.45,885.50V688.97H865.75V885.50" fill="#fff" stroke="#ff0000" stroke-width="3.3"/>
<circle cx="848.10" cy="688.97" r="7.1" fill="#ff0000"/>
<circle cx="855.10" cy="688.97" r="7.1" fill="#ff0000"/>
<circle cx="862.10" cy="688.97" r="7.1" fill="#ff0000"/>
<line x1="840.80" y1="885.50" x2="840.80" y2="898.00" stroke="#000" stroke-width="3.6"/>
<text x="856.45" y="915.02" font-size="26.5" text-anchor="end" transform="rotate(-45 856.45 915.02)">Ctrl</text>
<path d="M895.25,885.50V775.83H916.55V885.50" fill="#fff" stroke="#000" stroke-width="3.3"/>
<line x1="905.90" y1="785.27" x2="905.90" y2="766.40" stroke="#000" stroke-width="3.0"/>
<line x1="899.90" y1="766.40" x2="911.90" y2="766.40" stroke="#000" stroke-width="3.0"/>
<line x1="899.90" y1="785.27" x2="911.90" y2="785.27" stroke="#000" stroke-width="3.0"/>
<circle cx="905.90" cy="764.63" r="7.1" fill="#000"/>
<circle cx="912.90" cy="774.07" r="7.1" fill="#000"/>
<circle cx="899.40" cy="783.50" r="7.1" fill="#000"/>
<path d="M925.05,885.50V832.04H946.35V885.50" fill="#fff" stroke="#ff0000" stroke-width="3.3"/>
<line x1="935.70" y1="842.85" x2="935.70" y2="821.23" stroke="#ff0000" stroke-width="3.0"/>
<line x1="929.70" y1="821.23" x2="941.70" y2="821.23" stroke="#ff0000" stroke-width="3.0"/>
<line x1="929.70" y1="842.85" x2="941.70" y2="842.85" stroke="#ff0000" stroke-width="3.0"/>
<circle cx="942.30" cy="818.48" r="7.1" fill="#ff0000"/>
<circle cx="934.70" cy="828.51" r="7.1" fill="#ff0000"/>
<circle cx="934.70" cy="838.73" r="7.1" fill="#ff0000"/>
<line x1="920.30" y1="885.50" x2="920.30" y2="898.00" stroke="#000" stroke-width="3.6"/>
<text x="932.26" y="911.78" font-size="26.5" text-anchor="end" transform="rotate(-45 932.26 911.78)">Erastin</text>
<path d="M973.65,885.50V728.40H994.95V885.50" fill="#fff" stroke="#000" stroke-width="3.3"/>
<line x1="984.30" y1="735.28" x2="984.30" y2="721.53" stroke="#000" stroke-width="3.0"/>
<line x1="978.30" y1="721.53" x2="990.30" y2="721.53" stroke="#000" stroke-width="3.0"/>
<line x1="978.30" y1="735.28" x2="990.30" y2="735.28" stroke="#000" stroke-width="3.0"/>
<circle cx="984.50" cy="721.20" r="7.1" fill="#000"/>
<circle cx="990.30" cy="729.06" r="7.1" fill="#000"/>
<circle cx="977.60" cy="734.96" r="7.1" fill="#000"/>
<path d="M1002.95,885.50V728.08H1024.25V885.50" fill="#fff" stroke="#ff0000" stroke-width="3.3"/>
<line x1="1013.60" y1="734.56" x2="1013.60" y2="721.59" stroke="#ff0000" stroke-width="3.0"/>
<line x1="1007.60" y1="721.59" x2="1019.60" y2="721.59" stroke="#ff0000" stroke-width="3.0"/>
<line x1="1007.60" y1="734.56" x2="1019.60" y2="734.56" stroke="#ff0000" stroke-width="3.0"/>
<circle cx="1013.60" cy="720.41" r="7.1" fill="#ff0000"/>
<circle cx="1020.20" cy="730.63" r="7.1" fill="#ff0000"/>
<circle cx="1007.40" cy="733.19" r="7.1" fill="#ff0000"/>
<line x1="999.00" y1="885.50" x2="999.00" y2="898.00" stroke="#000" stroke-width="3.6"/>
<text x="1013.12" y="915.24" font-size="26.5" text-anchor="end" transform="rotate(-45 1013.12 915.24)">Erastin+ferrostatin-1</text>
<path d="M1053.65,885.50V729.06H1074.95V885.50" fill="#fff" stroke="#000" stroke-width="3.3"/>
<line x1="1064.30" y1="743.21" x2="1064.30" y2="714.91" stroke="#000" stroke-width="3.0"/>
<line x1="1058.30" y1="714.91" x2="1070.30" y2="714.91" stroke="#000" stroke-width="3.0"/>
<line x1="1058.30" y1="743.21" x2="1070.30" y2="743.21" stroke="#000" stroke-width="3.0"/>
<circle cx="1070.60" cy="715.70" r="7.1" fill="#000"/>
<circle cx="1064.30" cy="725.52" r="7.1" fill="#000"/>
<circle cx="1064.30" cy="743.80" r="7.1" fill="#000"/>
<path d="M1083.15,885.50V730.63H1104.45V885.50" fill="#fff" stroke="#ff0000" stroke-width="3.3"/>
<line x1="1093.80" y1="742.03" x2="1093.80" y2="719.23" stroke="#ff0000" stroke-width="3.0"/>
<line x1="1087.80" y1="719.23" x2="1099.80" y2="719.23" stroke="#ff0000" stroke-width="3.0"/>
<line x1="1087.80" y1="742.03" x2="1099.80" y2="742.03" stroke="#ff0000" stroke-width="3.0"/>
<circle cx="1093.80" cy="716.87" r="7.1" fill="#ff0000"/>
<circle cx="1100.50" cy="731.42" r="7.1" fill="#ff0000"/>
<circle cx="1086.90" cy="739.48" r="7.1" fill="#ff0000"/>
<line x1="1078.50" y1="885.50" x2="1078.50" y2="898.00" stroke="#000" stroke-width="3.6"/>
<text x="1092.62" y="915.24" font-size="26.5" text-anchor="end" transform="rotate(-45 1092.62 915.24)">Erastin+liproxstatin-1</text>
<path d="M1133.25,885.50V775.83H1154.55V885.50" fill="#fff" stroke="#000" stroke-width="3.3"/>
<line x1="1143.90" y1="787.63" x2="1143.90" y2="764.04" stroke="#000" stroke-width="3.0"/>
<line x1="1137.90" y1="764.04" x2="1149.90" y2="764.04" stroke="#000" stroke-width="3.0"/>
<line x1="1137.90" y1="787.63" x2="1149.90" y2="787.63" stroke="#000" stroke-width="3.0"/>
<circle cx="1150.50" cy="763.06" r="7.1" fill="#000"/>
<circle cx="1144.00" cy="771.51" r="7.1" fill="#000"/>
<circle cx="1144.00" cy="786.05" r="7.1" fill="#000"/>
<path d="M1162.85,885.50V832.83H1184.15V885.50" fill="#fff" stroke="#ff0000" stroke-width="3.3"/>
<line x1="1173.50" y1="849.53" x2="1173.50" y2="816.12" stroke="#ff0000" stroke-width="3.0"/>
<line x1="1167.50" y1="816.12" x2="1179.50" y2="816.12" stroke="#ff0000" stroke-width="3.0"/>
<line x1="1167.50" y1="849.53" x2="1179.50" y2="849.53" stroke="#ff0000" stroke-width="3.0"/>
<circle cx="1166.60" cy="819.66" r="7.1" fill="#ff0000"/>
<circle cx="1179.90" cy="824.77" r="7.1" fill="#ff0000"/>
<circle cx="1173.40" cy="850.91" r="7.1" fill="#ff0000"/>
<line x1="1158.00" y1="885.50" x2="1158.00" y2="898.00" stroke="#000" stroke-width="3.6"/>
<text x="1171.86" y="915.50" font-size="26.5" text-anchor="end" transform="rotate(-45 1171.86 915.50)">Erastin+Z-VAD-FMK</text>
<path d="M1212.75,885.50V775.83H1234.05V885.50" fill="#fff" stroke="#000" stroke-width="3.3"/>
<line x1="1223.40" y1="784.87" x2="1223.40" y2="766.79" stroke="#000" stroke-width="3.0"/>
<line x1="1217.40" y1="766.79" x2="1229.40" y2="766.79" stroke="#000" stroke-width="3.0"/>
<line x1="1217.40" y1="784.87" x2="1229.40" y2="784.87" stroke="#000" stroke-width="3.0"/>
<circle cx="1223.40" cy="763.65" r="7.1" fill="#000"/>
<circle cx="1230.80" cy="774.07" r="7.1" fill="#000"/>
<circle cx="1217.10" cy="782.52" r="7.1" fill="#000"/>
<path d="M1242.55,885.50V832.83H1263.85V885.50" fill="#fff" stroke="#ff0000" stroke-width="3.3"/>
<line x1="1253.20" y1="844.23" x2="1253.20" y2="821.43" stroke="#ff0000" stroke-width="3.0"/>
<line x1="1247.20" y1="821.43" x2="1259.20" y2="821.43" stroke="#ff0000" stroke-width="3.0"/>
<line x1="1247.20" y1="844.23" x2="1259.20" y2="844.23" stroke="#ff0000" stroke-width="3.0"/>
<circle cx="1259.40" cy="823.79" r="7.1" fill="#ff0000"/>
<circle cx="1252.60" cy="825.16" r="7.1" fill="#ff0000"/>
<circle cx="1253.10" cy="845.21" r="7.1" fill="#ff0000"/>
<line x1="1237.50" y1="885.50" x2="1237.50" y2="898.00" stroke="#000" stroke-width="3.6"/>
<text x="1249.00" y="912.24" font-size="26.5" text-anchor="end" transform="rotate(-45 1249.00 912.24)">Erastin+necrosulfonamide</text>
<path d="M1292.45,885.50V779.18H1313.75V885.50" fill="#fff" stroke="#000" stroke-width="3.3"/>
<line x1="1303.10" y1="789.00" x2="1303.10" y2="769.35" stroke="#000" stroke-width="3.0"/>
<line x1="1297.10" y1="769.35" x2="1309.10" y2="769.35" stroke="#000" stroke-width="3.0"/>
<line x1="1297.10" y1="789.00" x2="1309.10" y2="789.00" stroke="#000" stroke-width="3.0"/>
<circle cx="1309.50" cy="768.96" r="7.1" fill="#000"/>
<circle cx="1303.60" cy="775.83" r="7.1" fill="#000"/>
<circle cx="1303.10" cy="788.41" r="7.1" fill="#000"/>
<path d="M1322.15,885.50V831.06H1343.45V885.50" fill="#fff" stroke="#ff0000" stroke-width="3.3"/>
<line x1="1332.80" y1="841.67" x2="1332.80" y2="820.45" stroke="#ff0000" stroke-width="3.0"/>
<line x1="1326.80" y1="820.45" x2="1338.80" y2="820.45" stroke="#ff0000" stroke-width="3.0"/>
<line x1="1326.80" y1="841.67" x2="1338.80" y2="841.67" stroke="#ff0000" stroke-width="3.0"/>
<circle cx="1339.50" cy="820.84" r="7.1" fill="#ff0000"/>
<circle cx="1332.60" cy="825.95" r="7.1" fill="#ff0000"/>
<circle cx="1332.60" cy="841.87" r="7.1" fill="#ff0000"/>
<line x1="1318.00" y1="885.50" x2="1318.00" y2="898.00" stroke="#000" stroke-width="3.6"/>
<text x="1329.50" y="912.24" font-size="26.5" text-anchor="end" transform="rotate(-45 1329.50 912.24)">Erastin+3-methyladenine</text>
<line x1="937.50" y1="617.10" x2="1093.30" y2="617.10" stroke="#000" stroke-width="3.2"/>
<text x="1014.60" y="620.60" font-size="25" text-anchor="middle" style="font-weight:normal" letter-spacing="0.6">***</text>
<line x1="908.80" y1="644.20" x2="1064.00" y2="644.20" stroke="#000" stroke-width="3.2"/>
<text x="985.40" y="647.70" font-size="25" text-anchor="middle" style="font-weight:normal" letter-spacing="0.6">**</text>
<line x1="936.40" y1="670.80" x2="1013.50" y2="670.80" stroke="#000" stroke-width="3.2"/>
<text x="973.95" y="674.30" font-size="25" text-anchor="middle" style="font-weight:normal" letter-spacing="0.6">***</text>
<line x1="908.80" y1="699.50" x2="984.30" y2="699.50" stroke="#000" stroke-width="3.2"/>
<text x="950.25" y="703.00" font-size="25" text-anchor="middle" style="font-weight:normal" letter-spacing="0.6">**</text>
<line x1="908.80" y1="726.40" x2="936.50" y2="726.40" stroke="#000" stroke-width="3.2"/>
<text x="921.65" y="729.90" font-size="25" text-anchor="middle" style="font-weight:normal" letter-spacing="0.6">**</text>
<text x="1056.00" y="577.30" font-size="27.5" text-anchor="middle" textLength="56" lengthAdjust="spacingAndGlyphs">AGS</text>
<circle cx="1192.80" cy="625.30" r="7.3" fill="#000"/>
<text x="1211.90" y="634.80" font-size="27.5" textLength="73" lengthAdjust="spacingAndGlyphs">DMSO</text>
<circle cx="1192.80" cy="665.20" r="7.3" fill="#ff0000"/>
<text x="1213.40" y="672.10" font-size="26.5" textLength="132.5" lengthAdjust="spacingAndGlyphs">LF3(10μM)</text>
<text x="735.20" y="732.00" font-size="26.8" text-anchor="middle" transform="rotate(-90 735.20 732.00)">Cell viability(%)</text>
<line x1="179.50" y1="1535.20" x2="191.50" y2="1535.20" stroke="#000" stroke-width="3.6"/>
<text x="0.00" y="0.00" font-size="27.3" text-anchor="end" transform="translate(179.00 1543.00) scale(0.975 1)">0</text>
<line x1="179.50" y1="1443.33" x2="191.50" y2="1443.33" stroke="#000" stroke-width="3.6"/>
<text x="0.00" y="0.00" font-size="27.3" text-anchor="end" transform="translate(179.00 1451.13) scale(0.975 1)">2</text>
<line x1="179.50" y1="1351.47" x2="191.50" y2="1351.47" stroke="#000" stroke-width="3.6"/>
<text x="0.00" y="0.00" font-size="27.3" text-anchor="end" transform="translate(179.00 1359.27) scale(0.975 1)">4</text>
<line x1="179.50" y1="1259.60" x2="191.50" y2="1259.60" stroke="#000" stroke-width="3.6"/>
<text x="0.00" y="0.00" font-size="27.3" text-anchor="end" transform="translate(179.00 1267.40) scale(0.975 1)">6</text>
<path d="M214.35,1535.20V1456.19H252.45V1535.20" fill="#fff" stroke="#000" stroke-width="3.4"/>
<line x1="233.40" y1="1460.79" x2="233.40" y2="1451.60" stroke="#000" stroke-width="3.2"/>
<line x1="222.90" y1="1451.60" x2="243.90" y2="1451.60" stroke="#000" stroke-width="3.2"/>
<line x1="222.90" y1="1460.79" x2="243.90" y2="1460.79" stroke="#000" stroke-width="3.2"/>
<circle cx="218.10" cy="1456.19" r="7.1" fill="#000"/>
<circle cx="233.40" cy="1446.55" r="7.1" fill="#000"/>
<circle cx="248.70" cy="1456.19" r="7.1" fill="#000"/>
<line x1="233.40" y1="1535.20" x2="233.40" y2="1547.20" stroke="#000" stroke-width="3.6"/>
<path d="M277.35,1535.20V1444.71H315.45V1535.20" fill="#fff" stroke="#ff0000" stroke-width="3.4"/>
<line x1="296.40" y1="1450.68" x2="296.40" y2="1438.74" stroke="#ff0000" stroke-width="3.2"/>
<line x1="285.90" y1="1438.74" x2="306.90" y2="1438.74" stroke="#ff0000" stroke-width="3.2"/>
<line x1="285.90" y1="1450.68" x2="306.90" y2="1450.68" stroke="#ff0000" stroke-width="3.2"/>
<circle cx="281.10" cy="1449.30" r="7.1" fill="#ff0000"/>
<circle cx="296.40" cy="1437.36" r="7.1" fill="#ff0000"/>
<circle cx="311.70" cy="1444.25" r="7.1" fill="#ff0000"/>
<line x1="296.40" y1="1535.20" x2="296.40" y2="1547.20" stroke="#000" stroke-width="3.6"/>
<path d="M340.95,1535.20V1421.74H379.05V1535.20" fill="#fff" stroke="#0000ff" stroke-width="3.4"/>
<line x1="360.00" y1="1429.55" x2="360.00" y2="1413.94" stroke="#0000ff" stroke-width="3.2"/>
<line x1="349.50" y1="1413.94" x2="370.50" y2="1413.94" stroke="#0000ff" stroke-width="3.2"/>
<line x1="349.50" y1="1429.55" x2="370.50" y2="1429.55" stroke="#0000ff" stroke-width="3.2"/>
<circle cx="344.70" cy="1427.26" r="7.1" fill="#0000ff"/>
<circle cx="360.00" cy="1412.10" r="7.1" fill="#0000ff"/>
<circle cx="375.30" cy="1422.66" r="7.1" fill="#0000ff"/>
<line x1="360.00" y1="1535.20" x2="360.00" y2="1547.20" stroke="#000" stroke-width="3.6"/>
<path d="M404.55,1535.20V1317.02H442.65V1535.20" fill="#fff" stroke="#aa00e6" stroke-width="3.4"/>
<line x1="423.60" y1="1332.17" x2="423.60" y2="1301.86" stroke="#aa00e6" stroke-width="3.2"/>
<line x1="413.10" y1="1301.86" x2="434.10" y2="1301.86" stroke="#aa00e6" stroke-width="3.2"/>
<line x1="413.10" y1="1332.17" x2="434.10" y2="1332.17" stroke="#aa00e6" stroke-width="3.2"/>
<circle cx="423.60" cy="1302.78" r="7.1" fill="#aa00e6"/>
<circle cx="423.60" cy="1316.56" r="7.1" fill="#aa00e6"/>
<circle cx="423.60" cy="1331.72" r="7.1" fill="#aa00e6"/>
<line x1="423.60" y1="1535.20" x2="423.60" y2="1547.20" stroke="#000" stroke-width="3.6"/>
<line x1="234.40" y1="1388.00" x2="359.50" y2="1388.00" stroke="#000" stroke-width="3.2"/>
<text x="297.15" y="1391.50" font-size="25" text-anchor="middle" style="font-weight:normal" letter-spacing="0.6">*</text>
<line x1="357.80" y1="1280.70" x2="422.50" y2="1280.70" stroke="#000" stroke-width="3.2"/>
<text x="390.35" y="1284.20" font-size="25" text-anchor="middle" style="font-weight:normal" letter-spacing="0.6">***</text>
<text x="0.00" y="0.00" font-size="27.5" text-anchor="middle" transform="translate(327.00 1234.70) scale(0.962 1)">AGS</text>
<text x="152.30" y="1393.90" font-size="26.5" text-anchor="middle" transform="rotate(-90 152.30 1393.90)">MDA abundance (μM)</text>
<text x="0.00" y="0.00" font-size="27.5" text-anchor="end" transform="translate(223.00 1565.50) scale(0.962 1)">LF3(10μM)</text>
<text x="0.00" y="0.00" font-size="27.5" text-anchor="end" transform="translate(224.40 1593.00) scale(0.962 1)">Erastin(10μM)</text>
<text x="233.40" y="1566.86" font-size="26.5" text-anchor="middle">-</text>
<text x="233.40" y="1592.76" font-size="26.5" text-anchor="middle">-</text>
<text x="296.40" y="1568.85" font-size="26.5" text-anchor="middle">+</text>
<text x="296.40" y="1592.76" font-size="26.5" text-anchor="middle">-</text>
<text x="360.00" y="1566.86" font-size="26.5" text-anchor="middle">-</text>
<text x="360.00" y="1594.75" font-size="26.5" text-anchor="middle">+</text>
<text x="423.60" y="1568.85" font-size="26.5" text-anchor="middle">+</text>
<text x="423.60" y="1594.75" font-size="26.5" text-anchor="middle">+</text>
<line x1="638.40" y1="1533.90" x2="650.40" y2="1533.90" stroke="#000" stroke-width="3.6"/>
<text x="0.00" y="0.00" font-size="27.3" text-anchor="end" transform="translate(637.90 1541.70) scale(0.975 1)">0</text>
<line x1="638.40" y1="1441.90" x2="650.40" y2="1441.90" stroke="#000" stroke-width="3.6"/>
<text x="0.00" y="0.00" font-size="27.3" text-anchor="end" transform="translate(637.90 1449.70) scale(0.975 1)">2</text>
<line x1="638.40" y1="1349.90" x2="650.40" y2="1349.90" stroke="#000" stroke-width="3.6"/>
<text x="0.00" y="0.00" font-size="27.3" text-anchor="end" transform="translate(637.90 1357.70) scale(0.975 1)">4</text>
<line x1="638.40" y1="1257.90" x2="650.40" y2="1257.90" stroke="#000" stroke-width="3.6"/>
<text x="0.00" y="0.00" font-size="27.3" text-anchor="end" transform="translate(637.90 1265.70) scale(0.975 1)">6</text>
<path d="M673.95,1533.90V1460.30H712.05V1533.90" fill="#fff" stroke="#000" stroke-width="3.4"/>
<line x1="693.00" y1="1471.80" x2="693.00" y2="1448.80" stroke="#000" stroke-width="3.2"/>
<line x1="682.50" y1="1448.80" x2="703.50" y2="1448.80" stroke="#000" stroke-width="3.2"/>
<line x1="682.50" y1="1471.80" x2="703.50" y2="1471.80" stroke="#000" stroke-width="3.2"/>
<circle cx="693.00" cy="1447.88" r="7.1" fill="#000"/>
<circle cx="693.00" cy="1461.22" r="7.1" fill="#000"/>
<circle cx="693.00" cy="1471.34" r="7.1" fill="#000"/>
<line x1="693.00" y1="1533.90" x2="693.00" y2="1545.90" stroke="#000" stroke-width="3.6"/>
<path d="M737.25,1533.90V1449.72H775.35V1533.90" fill="#fff" stroke="#ff0000" stroke-width="3.4"/>
<line x1="756.30" y1="1460.30" x2="756.30" y2="1439.14" stroke="#ff0000" stroke-width="3.2"/>
<line x1="745.80" y1="1439.14" x2="766.80" y2="1439.14" stroke="#ff0000" stroke-width="3.2"/>
<line x1="745.80" y1="1460.30" x2="766.80" y2="1460.30" stroke="#ff0000" stroke-width="3.2"/>
<circle cx="756.30" cy="1445.12" r="7.1" fill="#ff0000"/>
<circle cx="772.30" cy="1441.90" r="7.1" fill="#ff0000"/>
<circle cx="756.30" cy="1463.52" r="7.1" fill="#ff0000"/>
<line x1="756.30" y1="1533.90" x2="756.30" y2="1545.90" stroke="#000" stroke-width="3.6"/>
<path d="M800.65,1533.90V1421.20H838.75V1533.90" fill="#fff" stroke="#0000ff" stroke-width="3.4"/>
<line x1="819.70" y1="1440.52" x2="819.70" y2="1401.88" stroke="#0000ff" stroke-width="3.2"/>
<line x1="809.20" y1="1401.88" x2="830.20" y2="1401.88" stroke="#0000ff" stroke-width="3.2"/>
<line x1="809.20" y1="1440.52" x2="830.20" y2="1440.52" stroke="#0000ff" stroke-width="3.2"/>
<circle cx="819.70" cy="1402.80" r="7.1" fill="#0000ff"/>
<circle cx="819.70" cy="1415.22" r="7.1" fill="#0000ff"/>
<circle cx="819.70" cy="1440.98" r="7.1" fill="#0000ff"/>
<line x1="819.70" y1="1533.90" x2="819.70" y2="1545.90" stroke="#000" stroke-width="3.6"/>
<path d="M864.25,1533.90V1291.02H902.35V1533.90" fill="#fff" stroke="#aa00e6" stroke-width="3.4"/>
<line x1="883.30" y1="1304.82" x2="883.30" y2="1277.22" stroke="#aa00e6" stroke-width="3.2"/>
<line x1="872.80" y1="1277.22" x2="893.80" y2="1277.22" stroke="#aa00e6" stroke-width="3.2"/>
<line x1="872.80" y1="1304.82" x2="893.80" y2="1304.82" stroke="#aa00e6" stroke-width="3.2"/>
<circle cx="883.30" cy="1274.00" r="7.1" fill="#aa00e6"/>
<circle cx="900.80" cy="1291.94" r="7.1" fill="#aa00e6"/>
<circle cx="867.30" cy="1302.06" r="7.1" fill="#aa00e6"/>
<line x1="883.30" y1="1533.90" x2="883.30" y2="1545.90" stroke="#000" stroke-width="3.6"/>
<line x1="694.60" y1="1388.00" x2="820.00" y2="1388.00" stroke="#000" stroke-width="3.2"/>
<text x="757.50" y="1391.50" font-size="25" text-anchor="middle" style="font-weight:normal" letter-spacing="0.6">*</text>
<line x1="817.30" y1="1260.30" x2="882.00" y2="1260.30" stroke="#000" stroke-width="3.2"/>
<text x="849.85" y="1263.80" font-size="25" text-anchor="middle" style="font-weight:normal" letter-spacing="0.6">***</text>
<text x="0.00" y="0.00" font-size="27.5" text-anchor="middle" transform="translate(787.50 1234.70) scale(0.962 1)">HGC-27</text>
<text x="611.60" y="1393.90" font-size="26.5" text-anchor="middle" transform="rotate(-90 611.60 1393.90)">MDA abundance (μM)</text>
<text x="0.00" y="0.00" font-size="27.5" text-anchor="end" transform="translate(675.90 1564.10) scale(0.962 1)">LF3(2μM)</text>
<text x="0.00" y="0.00" font-size="27.5" text-anchor="end" transform="translate(678.70 1592.20) scale(0.962 1)">Erastin(1μM)</text>
<text x="693.00" y="1563.46" font-size="26.5" text-anchor="middle">-</text>
<text x="693.00" y="1591.06" font-size="26.5" text-anchor="middle">-</text>
<text x="756.30" y="1565.45" font-size="26.5" text-anchor="middle">+</text>
<text x="756.30" y="1591.06" font-size="26.5" text-anchor="middle">-</text>
<text x="819.70" y="1563.46" font-size="26.5" text-anchor="middle">-</text>
<text x="819.70" y="1593.05" font-size="26.5" text-anchor="middle">+</text>
<text x="883.30" y="1565.45" font-size="26.5" text-anchor="middle">+</text>
<text x="883.30" y="1593.05" font-size="26.5" text-anchor="middle">+</text>
<line x1="1103.70" y1="1534.60" x2="1115.70" y2="1534.60" stroke="#000" stroke-width="3.6"/>
<text x="0.00" y="0.00" font-size="27.3" text-anchor="end" transform="translate(1103.20 1542.40) scale(0.975 1)">0</text>
<line x1="1103.70" y1="1442.83" x2="1115.70" y2="1442.83" stroke="#000" stroke-width="3.6"/>
<text x="0.00" y="0.00" font-size="27.3" text-anchor="end" transform="translate(1103.20 1450.63) scale(0.975 1)">2</text>
<line x1="1103.70" y1="1351.07" x2="1115.70" y2="1351.07" stroke="#000" stroke-width="3.6"/>
<text x="0.00" y="0.00" font-size="27.3" text-anchor="end" transform="translate(1103.20 1358.87) scale(0.975 1)">4</text>
<line x1="1103.70" y1="1259.30" x2="1115.70" y2="1259.30" stroke="#000" stroke-width="3.6"/>
<text x="0.00" y="0.00" font-size="27.3" text-anchor="end" transform="translate(1103.20 1267.10) scale(0.975 1)">6</text>
<path d="M1139.05,1534.60V1455.68H1177.15V1534.60" fill="#fff" stroke="#000" stroke-width="3.4"/>
<line x1="1158.10" y1="1461.65" x2="1158.10" y2="1449.72" stroke="#000" stroke-width="3.2"/>
<line x1="1147.60" y1="1449.72" x2="1168.60" y2="1449.72" stroke="#000" stroke-width="3.2"/>
<line x1="1147.60" y1="1461.65" x2="1168.60" y2="1461.65" stroke="#000" stroke-width="3.2"/>
<circle cx="1143.10" cy="1457.97" r="7.1" fill="#000"/>
<circle cx="1158.10" cy="1442.83" r="7.1" fill="#000"/>
<circle cx="1172.70" cy="1455.68" r="7.1" fill="#000"/>
<line x1="1158.10" y1="1534.60" x2="1158.10" y2="1546.60" stroke="#000" stroke-width="3.6"/>
<path d="M1202.35,1534.60V1444.67H1240.45V1534.60" fill="#fff" stroke="#ff0000" stroke-width="3.4"/>
<line x1="1221.40" y1="1451.55" x2="1221.40" y2="1437.79" stroke="#ff0000" stroke-width="3.2"/>
<line x1="1210.90" y1="1437.79" x2="1231.90" y2="1437.79" stroke="#ff0000" stroke-width="3.2"/>
<line x1="1210.90" y1="1451.55" x2="1231.90" y2="1451.55" stroke="#ff0000" stroke-width="3.2"/>
<circle cx="1221.40" cy="1452.93" r="7.1" fill="#ff0000"/>
<circle cx="1221.40" cy="1441.00" r="7.1" fill="#ff0000"/>
<circle cx="1237.40" cy="1439.16" r="7.1" fill="#ff0000"/>
<line x1="1221.40" y1="1534.60" x2="1221.40" y2="1546.60" stroke="#000" stroke-width="3.6"/>
<path d="M1266.05,1534.60V1423.56H1304.15V1534.60" fill="#fff" stroke="#0000ff" stroke-width="3.4"/>
<line x1="1285.10" y1="1432.74" x2="1285.10" y2="1414.39" stroke="#0000ff" stroke-width="3.2"/>
<line x1="1274.60" y1="1414.39" x2="1295.60" y2="1414.39" stroke="#0000ff" stroke-width="3.2"/>
<line x1="1274.60" y1="1432.74" x2="1295.60" y2="1432.74" stroke="#0000ff" stroke-width="3.2"/>
<circle cx="1269.80" cy="1430.44" r="7.1" fill="#0000ff"/>
<circle cx="1285.10" cy="1414.39" r="7.1" fill="#0000ff"/>
<circle cx="1300.40" cy="1422.64" r="7.1" fill="#0000ff"/>
<line x1="1285.10" y1="1534.60" x2="1285.10" y2="1546.60" stroke="#000" stroke-width="3.6"/>
<path d="M1329.75,1534.60V1332.71H1367.85V1534.60" fill="#fff" stroke="#aa00e6" stroke-width="3.4"/>
<line x1="1348.80" y1="1352.90" x2="1348.80" y2="1312.52" stroke="#aa00e6" stroke-width="3.2"/>
<line x1="1338.30" y1="1312.52" x2="1359.30" y2="1312.52" stroke="#aa00e6" stroke-width="3.2"/>
<line x1="1338.30" y1="1352.90" x2="1359.30" y2="1352.90" stroke="#aa00e6" stroke-width="3.2"/>
<circle cx="1348.80" cy="1308.85" r="7.1" fill="#aa00e6"/>
<circle cx="1332.80" cy="1345.56" r="7.1" fill="#aa00e6"/>
<circle cx="1364.80" cy="1337.76" r="7.1" fill="#aa00e6"/>
<line x1="1348.80" y1="1534.60" x2="1348.80" y2="1546.60" stroke="#000" stroke-width="3.6"/>
<line x1="1282.70" y1="1293.30" x2="1347.40" y2="1293.30" stroke="#000" stroke-width="3.2"/>
<text x="1315.25" y="1296.80" font-size="25" text-anchor="middle" style="font-weight:normal" letter-spacing="0.6">***</text>
<text x="0.00" y="0.00" font-size="27.5" text-anchor="middle" transform="translate(1251.90 1234.70) scale(0.962 1)">MKN-45</text>
<text x="1077.30" y="1393.90" font-size="26.5" text-anchor="middle" transform="rotate(-90 1077.30 1393.90)">MDA abundance (μM)</text>
<text x="0.00" y="0.00" font-size="27.5" text-anchor="end" transform="translate(1148.70 1566.30) scale(0.962 1)">LF3(10μM)</text>
<text x="0.00" y="0.00" font-size="27.5" text-anchor="end" transform="translate(1150.40 1594.20) scale(0.962 1)">Erastin(10μM)</text>
<text x="1158.10" y="1563.56" font-size="26.5" text-anchor="middle">-</text>
<text x="1158.10" y="1591.46" font-size="26.5" text-anchor="middle">-</text>
<text x="1221.40" y="1565.55" font-size="26.5" text-anchor="middle">+</text>
<text x="1221.40" y="1591.46" font-size="26.5" text-anchor="middle">-</text>
<text x="1285.10" y="1563.56" font-size="26.5" text-anchor="middle">-</text>
<text x="1285.10" y="1593.45" font-size="26.5" text-anchor="middle">+</text>
<text x="1348.80" y="1565.55" font-size="26.5" text-anchor="middle">+</text>
<text x="1348.80" y="1593.45" font-size="26.5" text-anchor="middle">+</text>
<line x1="181.50" y1="1976.00" x2="193.50" y2="1976.00" stroke="#000" stroke-width="3.6"/>
<text x="0.00" y="0.00" font-size="27.3" text-anchor="end" transform="translate(181.00 1983.80) scale(0.975 1)">0</text>
<line x1="181.50" y1="1921.16" x2="193.50" y2="1921.16" stroke="#000" stroke-width="3.6"/>
<text x="0.00" y="0.00" font-size="27.3" text-anchor="end" transform="translate(181.00 1928.96) scale(0.975 1)">100</text>
<line x1="181.50" y1="1866.32" x2="193.50" y2="1866.32" stroke="#000" stroke-width="3.6"/>
<text x="0.00" y="0.00" font-size="27.3" text-anchor="end" transform="translate(181.00 1874.12) scale(0.975 1)">200</text>
<line x1="181.50" y1="1811.48" x2="193.50" y2="1811.48" stroke="#000" stroke-width="3.6"/>
<text x="0.00" y="0.00" font-size="27.3" text-anchor="end" transform="translate(181.00 1819.28) scale(0.975 1)">300</text>
<line x1="181.50" y1="1756.64" x2="193.50" y2="1756.64" stroke="#000" stroke-width="3.6"/>
<text x="0.00" y="0.00" font-size="27.3" text-anchor="end" transform="translate(181.00 1764.44) scale(0.975 1)">400</text>
<line x1="181.50" y1="1701.80" x2="193.50" y2="1701.80" stroke="#000" stroke-width="3.6"/>
<text x="0.00" y="0.00" font-size="27.3" text-anchor="end" transform="translate(181.00 1709.60) scale(0.975 1)">500</text>
<path d="M216.35,1976.00V1901.97H254.45V1976.00" fill="#fff" stroke="#000" stroke-width="3.4"/>
<line x1="235.40" y1="1909.64" x2="235.40" y2="1894.29" stroke="#000" stroke-width="3.2"/>
<line x1="224.90" y1="1894.29" x2="245.90" y2="1894.29" stroke="#000" stroke-width="3.2"/>
<line x1="224.90" y1="1909.64" x2="245.90" y2="1909.64" stroke="#000" stroke-width="3.2"/>
<circle cx="219.90" cy="1908.00" r="7.1" fill="#000"/>
<circle cx="235.40" cy="1894.29" r="7.1" fill="#000"/>
<circle cx="251.70" cy="1898.68" r="7.1" fill="#000"/>
<line x1="235.40" y1="1976.00" x2="235.40" y2="1988.00" stroke="#000" stroke-width="3.6"/>
<path d="M279.65,1976.00V1897.58H317.75V1976.00" fill="#fff" stroke="#ff0000" stroke-width="3.4"/>
<line x1="298.70" y1="1907.45" x2="298.70" y2="1887.71" stroke="#ff0000" stroke-width="3.2"/>
<line x1="288.20" y1="1887.71" x2="309.20" y2="1887.71" stroke="#ff0000" stroke-width="3.2"/>
<line x1="288.20" y1="1907.45" x2="309.20" y2="1907.45" stroke="#ff0000" stroke-width="3.2"/>
<circle cx="298.70" cy="1906.35" r="7.1" fill="#ff0000"/>
<circle cx="298.70" cy="1894.29" r="7.1" fill="#ff0000"/>
<circle cx="314.70" cy="1887.71" r="7.1" fill="#ff0000"/>
<line x1="298.70" y1="1976.00" x2="298.70" y2="1988.00" stroke="#000" stroke-width="3.6"/>
<path d="M343.35,1976.00V1871.80H381.45V1976.00" fill="#fff" stroke="#0000ff" stroke-width="3.4"/>
<line x1="362.40" y1="1880.58" x2="362.40" y2="1863.03" stroke="#0000ff" stroke-width="3.2"/>
<line x1="351.90" y1="1863.03" x2="372.90" y2="1863.03" stroke="#0000ff" stroke-width="3.2"/>
<line x1="351.90" y1="1880.58" x2="372.90" y2="1880.58" stroke="#0000ff" stroke-width="3.2"/>
<circle cx="346.90" cy="1878.38" r="7.1" fill="#0000ff"/>
<circle cx="362.40" cy="1860.29" r="7.1" fill="#0000ff"/>
<circle cx="377.70" cy="1872.90" r="7.1" fill="#0000ff"/>
<line x1="362.40" y1="1976.00" x2="362.40" y2="1988.00" stroke="#000" stroke-width="3.6"/>
<path d="M406.55,1976.00V1783.51H444.65V1976.00" fill="#fff" stroke="#aa00e6" stroke-width="3.4"/>
<line x1="425.60" y1="1799.42" x2="425.60" y2="1767.61" stroke="#aa00e6" stroke-width="3.2"/>
<line x1="415.10" y1="1767.61" x2="436.10" y2="1767.61" stroke="#aa00e6" stroke-width="3.2"/>
<line x1="415.10" y1="1799.42" x2="436.10" y2="1799.42" stroke="#aa00e6" stroke-width="3.2"/>
<circle cx="410.10" cy="1772.54" r="7.1" fill="#aa00e6"/>
<circle cx="425.60" cy="1799.96" r="7.1" fill="#aa00e6"/>
<circle cx="441.60" cy="1772.54" r="7.1" fill="#aa00e6"/>
<line x1="425.60" y1="1976.00" x2="425.60" y2="1988.00" stroke="#000" stroke-width="3.6"/>
<line x1="237.80" y1="1841.50" x2="360.50" y2="1841.50" stroke="#000" stroke-width="3.2"/>
<text x="299.35" y="1845.00" font-size="25" text-anchor="middle" style="font-weight:normal" letter-spacing="0.6">*</text>
<line x1="363.90" y1="1751.20" x2="424.20" y2="1751.20" stroke="#000" stroke-width="3.2"/>
<text x="394.25" y="1754.70" font-size="25" text-anchor="middle" style="font-weight:normal" letter-spacing="0.6">***</text>
<text x="0.00" y="0.00" font-size="27.5" text-anchor="middle" transform="translate(329.30 1701.80) scale(0.962 1)">AGS</text>
<text x="128.10" y="1838.90" font-size="26.5" text-anchor="middle" transform="rotate(-90 128.10 1838.90)">4-HNE (ng/L)</text>
<text x="0.00" y="0.00" font-size="27.5" text-anchor="end" transform="translate(221.60 2007.00) scale(0.962 1)">LF3(10μM)</text>
<text x="0.00" y="0.00" font-size="27.5" text-anchor="end" transform="translate(223.00 2035.10) scale(0.962 1)">Erastin(10μM)</text>
<text x="235.40" y="2007.96" font-size="26.5" text-anchor="middle">-</text>
<text x="235.40" y="2034.76" font-size="26.5" text-anchor="middle">-</text>
<text x="298.70" y="2009.95" font-size="26.5" text-anchor="middle">+</text>
<text x="298.70" y="2034.76" font-size="26.5" text-anchor="middle">-</text>
<text x="362.40" y="2007.96" font-size="26.5" text-anchor="middle">-</text>
<text x="362.40" y="2036.75" font-size="26.5" text-anchor="middle">+</text>
<text x="425.60" y="2009.95" font-size="26.5" text-anchor="middle">+</text>
<text x="425.60" y="2036.75" font-size="26.5" text-anchor="middle">+</text>
<line x1="640.00" y1="1978.40" x2="652.00" y2="1978.40" stroke="#000" stroke-width="3.6"/>
<text x="0.00" y="0.00" font-size="27.3" text-anchor="end" transform="translate(639.50 1986.20) scale(0.975 1)">0</text>
<line x1="640.00" y1="1923.42" x2="652.00" y2="1923.42" stroke="#000" stroke-width="3.6"/>
<text x="0.00" y="0.00" font-size="27.3" text-anchor="end" transform="translate(639.50 1931.22) scale(0.975 1)">100</text>
<line x1="640.00" y1="1868.44" x2="652.00" y2="1868.44" stroke="#000" stroke-width="3.6"/>
<text x="0.00" y="0.00" font-size="27.3" text-anchor="end" transform="translate(639.50 1876.24) scale(0.975 1)">200</text>
<line x1="640.00" y1="1813.46" x2="652.00" y2="1813.46" stroke="#000" stroke-width="3.6"/>
<text x="0.00" y="0.00" font-size="27.3" text-anchor="end" transform="translate(639.50 1821.26) scale(0.975 1)">300</text>
<line x1="640.00" y1="1758.48" x2="652.00" y2="1758.48" stroke="#000" stroke-width="3.6"/>
<text x="0.00" y="0.00" font-size="27.3" text-anchor="end" transform="translate(639.50 1766.28) scale(0.975 1)">400</text>
<line x1="640.00" y1="1703.50" x2="652.00" y2="1703.50" stroke="#000" stroke-width="3.6"/>
<text x="0.00" y="0.00" font-size="27.3" text-anchor="end" transform="translate(639.50 1711.30) scale(0.975 1)">500</text>
<path d="M674.75,1978.40V1915.01H712.85V1978.40" fill="#fff" stroke="#000" stroke-width="3.4"/>
<line x1="693.80" y1="1923.26" x2="693.80" y2="1906.76" stroke="#000" stroke-width="3.2"/>
<line x1="683.30" y1="1906.76" x2="704.30" y2="1906.76" stroke="#000" stroke-width="3.2"/>
<line x1="683.30" y1="1923.26" x2="704.30" y2="1923.26" stroke="#000" stroke-width="3.2"/>
<circle cx="693.80" cy="1904.23" r="7.1" fill="#000"/>
<circle cx="709.40" cy="1914.90" r="7.1" fill="#000"/>
<circle cx="678.30" cy="1920.73" r="7.1" fill="#000"/>
<line x1="693.80" y1="1978.40" x2="693.80" y2="1990.40" stroke="#000" stroke-width="3.6"/>
<path d="M738.15,1978.40V1915.01H776.25V1978.40" fill="#fff" stroke="#ff0000" stroke-width="3.4"/>
<line x1="757.20" y1="1923.09" x2="757.20" y2="1906.93" stroke="#ff0000" stroke-width="3.2"/>
<line x1="746.70" y1="1906.93" x2="767.70" y2="1906.93" stroke="#ff0000" stroke-width="3.2"/>
<line x1="746.70" y1="1923.09" x2="767.70" y2="1923.09" stroke="#ff0000" stroke-width="3.2"/>
<circle cx="741.70" cy="1915.28" r="7.1" fill="#ff0000"/>
<circle cx="757.20" cy="1906.38" r="7.1" fill="#ff0000"/>
<circle cx="772.70" cy="1910.00" r="7.1" fill="#ff0000"/>
<line x1="757.20" y1="1978.40" x2="757.20" y2="1990.40" stroke="#000" stroke-width="3.6"/>
<path d="M801.75,1978.40V1878.34H839.85V1978.40" fill="#fff" stroke="#0000ff" stroke-width="3.4"/>
<line x1="820.80" y1="1893.73" x2="820.80" y2="1862.94" stroke="#0000ff" stroke-width="3.2"/>
<line x1="810.30" y1="1862.94" x2="831.30" y2="1862.94" stroke="#0000ff" stroke-width="3.2"/>
<line x1="810.30" y1="1893.73" x2="831.30" y2="1893.73" stroke="#0000ff" stroke-width="3.2"/>
<circle cx="805.30" cy="1865.14" r="7.1" fill="#0000ff"/>
<circle cx="820.80" cy="1893.73" r="7.1" fill="#0000ff"/>
<circle cx="836.30" cy="1870.64" r="7.1" fill="#0000ff"/>
<line x1="820.80" y1="1978.40" x2="820.80" y2="1990.40" stroke="#000" stroke-width="3.6"/>
<path d="M864.75,1978.40V1783.77H902.85V1978.40" fill="#fff" stroke="#aa00e6" stroke-width="3.4"/>
<line x1="883.80" y1="1800.26" x2="883.80" y2="1767.28" stroke="#b556d8" stroke-width="3.2"/>
<line x1="873.30" y1="1767.28" x2="894.30" y2="1767.28" stroke="#b556d8" stroke-width="3.2"/>
<line x1="873.30" y1="1800.26" x2="894.30" y2="1800.26" stroke="#b556d8" stroke-width="3.2"/>
<circle cx="883.80" cy="1765.08" r="7.1" fill="#b556d8"/>
<circle cx="883.80" cy="1783.77" r="7.1" fill="#b556d8"/>
<circle cx="883.80" cy="1800.81" r="7.1" fill="#b556d8"/>
<line x1="883.80" y1="1978.40" x2="883.80" y2="1990.40" stroke="#000" stroke-width="3.6"/>
<line x1="699.00" y1="1844.90" x2="824.10" y2="1844.90" stroke="#000" stroke-width="3.2"/>
<text x="761.75" y="1848.40" font-size="25" text-anchor="middle" style="font-weight:normal" letter-spacing="0.6">*</text>
<line x1="822.40" y1="1746.00" x2="884.80" y2="1746.00" stroke="#000" stroke-width="3.2"/>
<text x="853.80" y="1749.50" font-size="25" text-anchor="middle" style="font-weight:normal" letter-spacing="0.6">***</text>
<text x="0.00" y="0.00" font-size="27.5" text-anchor="middle" transform="translate(792.30 1699.00) scale(0.962 1)">HGC-27</text>
<text x="587.50" y="1843.20" font-size="26.5" text-anchor="middle" transform="rotate(-90 587.50 1843.20)">4-HNE (ng/L)</text>
<text x="0.00" y="0.00" font-size="27.5" text-anchor="end" transform="translate(679.40 2008.30) scale(0.962 1)">LF3(2μM)</text>
<text x="0.00" y="0.00" font-size="27.5" text-anchor="end" transform="translate(682.30 2036.20) scale(0.962 1)">Erastin(1μM)</text>
<text x="693.80" y="2007.76" font-size="26.5" text-anchor="middle">-</text>
<text x="693.80" y="2034.36" font-size="26.5" text-anchor="middle">-</text>
<text x="757.20" y="2009.75" font-size="26.5" text-anchor="middle">+</text>
<text x="757.20" y="2034.36" font-size="26.5" text-anchor="middle">-</text>
<text x="820.80" y="2007.76" font-size="26.5" text-anchor="middle">-</text>
<text x="820.80" y="2036.35" font-size="26.5" text-anchor="middle">+</text>
<text x="883.80" y="2009.75" font-size="26.5" text-anchor="middle">+</text>
<text x="883.80" y="2036.35" font-size="26.5" text-anchor="middle">+</text>
<line x1="1105.40" y1="1976.00" x2="1117.40" y2="1976.00" stroke="#000" stroke-width="3.6"/>
<text x="0.00" y="0.00" font-size="27.3" text-anchor="end" transform="translate(1104.90 1983.80) scale(0.975 1)">0</text>
<line x1="1105.40" y1="1921.30" x2="1117.40" y2="1921.30" stroke="#000" stroke-width="3.6"/>
<text x="0.00" y="0.00" font-size="27.3" text-anchor="end" transform="translate(1104.90 1929.10) scale(0.975 1)">100</text>
<line x1="1105.40" y1="1866.60" x2="1117.40" y2="1866.60" stroke="#000" stroke-width="3.6"/>
<text x="0.00" y="0.00" font-size="27.3" text-anchor="end" transform="translate(1104.90 1874.40) scale(0.975 1)">200</text>
<line x1="1105.40" y1="1811.90" x2="1117.40" y2="1811.90" stroke="#000" stroke-width="3.6"/>
<text x="0.00" y="0.00" font-size="27.3" text-anchor="end" transform="translate(1104.90 1819.70) scale(0.975 1)">300</text>
<line x1="1105.40" y1="1757.20" x2="1117.40" y2="1757.20" stroke="#000" stroke-width="3.6"/>
<text x="0.00" y="0.00" font-size="27.3" text-anchor="end" transform="translate(1104.90 1765.00) scale(0.975 1)">400</text>
<line x1="1105.40" y1="1702.50" x2="1117.40" y2="1702.50" stroke="#000" stroke-width="3.6"/>
<text x="0.00" y="0.00" font-size="27.3" text-anchor="end" transform="translate(1104.90 1710.30) scale(0.975 1)">500</text>
<path d="M1140.95,1976.00V1901.61H1179.05V1976.00" fill="#fff" stroke="#000" stroke-width="3.4"/>
<line x1="1160.00" y1="1912.55" x2="1160.00" y2="1890.67" stroke="#000" stroke-width="3.2"/>
<line x1="1149.50" y1="1890.67" x2="1170.50" y2="1890.67" stroke="#000" stroke-width="3.2"/>
<line x1="1149.50" y1="1912.55" x2="1170.50" y2="1912.55" stroke="#000" stroke-width="3.2"/>
<circle cx="1160.00" cy="1899.97" r="7.1" fill="#000"/>
<circle cx="1160.00" cy="1913.64" r="7.1" fill="#000"/>
<circle cx="1176.50" cy="1891.76" r="7.1" fill="#000"/>
<line x1="1160.00" y1="1976.00" x2="1160.00" y2="1988.00" stroke="#000" stroke-width="3.6"/>
<path d="M1204.35,1976.00V1897.23H1242.45V1976.00" fill="#fff" stroke="#ff0000" stroke-width="3.4"/>
<line x1="1223.40" y1="1904.34" x2="1223.40" y2="1890.12" stroke="#ff0000" stroke-width="3.2"/>
<line x1="1212.90" y1="1890.12" x2="1233.90" y2="1890.12" stroke="#ff0000" stroke-width="3.2"/>
<line x1="1212.90" y1="1904.34" x2="1233.90" y2="1904.34" stroke="#ff0000" stroke-width="3.2"/>
<circle cx="1223.40" cy="1906.53" r="7.1" fill="#ff0000"/>
<circle cx="1223.40" cy="1892.86" r="7.1" fill="#ff0000"/>
<circle cx="1239.40" cy="1891.21" r="7.1" fill="#ff0000"/>
<line x1="1223.40" y1="1976.00" x2="1223.40" y2="1988.00" stroke="#000" stroke-width="3.6"/>
<path d="M1267.75,1976.00V1879.18H1305.85V1976.00" fill="#fff" stroke="#0000ff" stroke-width="3.4"/>
<line x1="1286.80" y1="1892.31" x2="1286.80" y2="1866.05" stroke="#0000ff" stroke-width="3.2"/>
<line x1="1276.30" y1="1866.05" x2="1297.30" y2="1866.05" stroke="#0000ff" stroke-width="3.2"/>
<line x1="1276.30" y1="1892.31" x2="1297.30" y2="1892.31" stroke="#0000ff" stroke-width="3.2"/>
<circle cx="1286.80" cy="1865.51" r="7.1" fill="#0000ff"/>
<circle cx="1286.80" cy="1879.18" r="7.1" fill="#0000ff"/>
<circle cx="1286.80" cy="1891.21" r="7.1" fill="#0000ff"/>
<line x1="1286.80" y1="1976.00" x2="1286.80" y2="1988.00" stroke="#000" stroke-width="3.6"/>
<path d="M1330.75,1976.00V1765.95H1368.85V1976.00" fill="#fff" stroke="#aa00e6" stroke-width="3.4"/>
<line x1="1349.80" y1="1790.02" x2="1349.80" y2="1741.88" stroke="#aa00e6" stroke-width="3.2"/>
<line x1="1339.30" y1="1741.88" x2="1360.30" y2="1741.88" stroke="#aa00e6" stroke-width="3.2"/>
<line x1="1339.30" y1="1790.02" x2="1360.30" y2="1790.02" stroke="#aa00e6" stroke-width="3.2"/>
<circle cx="1349.80" cy="1744.07" r="7.1" fill="#aa00e6"/>
<circle cx="1349.80" cy="1760.48" r="7.1" fill="#aa00e6"/>
<circle cx="1349.80" cy="1792.76" r="7.1" fill="#aa00e6"/>
<line x1="1349.80" y1="1976.00" x2="1349.80" y2="1988.00" stroke="#000" stroke-width="3.6"/>
<line x1="1288.40" y1="1728.00" x2="1350.50" y2="1728.00" stroke="#000" stroke-width="3.2"/>
<text x="1319.65" y="1731.50" font-size="25" text-anchor="middle" style="font-weight:normal" letter-spacing="0.6">***</text>
<text x="0.00" y="0.00" font-size="27.5" text-anchor="middle" transform="translate(1256.30 1700.70) scale(0.962 1)">MKN-45</text>
<text x="1054.60" y="1841.50" font-size="26.5" text-anchor="middle" transform="rotate(-90 1054.60 1841.50)">4-HNE (ng/L)</text>
<text x="0.00" y="0.00" font-size="27.5" text-anchor="end" transform="translate(1145.20 2009.80) scale(0.962 1)">LF3(10μM)</text>
<text x="0.00" y="0.00" font-size="27.5" text-anchor="end" transform="translate(1147.30 2037.50) scale(0.962 1)">Erastin(10μM)</text>
<text x="1160.00" y="2006.96" font-size="26.5" text-anchor="middle">-</text>
<text x="1160.00" y="2033.76" font-size="26.5" text-anchor="middle">-</text>
<text x="1223.40" y="2008.95" font-size="26.5" text-anchor="middle">+</text>
<text x="1223.40" y="2033.76" font-size="26.5" text-anchor="middle">-</text>
<text x="1286.80" y="2006.96" font-size="26.5" text-anchor="middle">-</text>
<text x="1286.80" y="2035.75" font-size="26.5" text-anchor="middle">+</text>
<text x="1349.80" y="2008.95" font-size="26.5" text-anchor="middle">+</text>
<text x="1349.80" y="2035.75" font-size="26.5" text-anchor="middle">+</text>
<line x1="179.80" y1="2425.20" x2="191.80" y2="2425.20" stroke="#000" stroke-width="3.6"/>
<text x="0.00" y="0.00" font-size="27.3" text-anchor="end" transform="translate(179.30 2433.00) scale(0.975 1)">0</text>
<line x1="179.80" y1="2334.67" x2="191.80" y2="2334.67" stroke="#000" stroke-width="3.6"/>
<text x="0.00" y="0.00" font-size="27.3" text-anchor="end" transform="translate(179.30 2342.47) scale(0.975 1)">2</text>
<line x1="179.80" y1="2244.13" x2="191.80" y2="2244.13" stroke="#000" stroke-width="3.6"/>
<text x="0.00" y="0.00" font-size="27.3" text-anchor="end" transform="translate(179.30 2251.93) scale(0.975 1)">4</text>
<line x1="179.80" y1="2153.60" x2="191.80" y2="2153.60" stroke="#000" stroke-width="3.6"/>
<text x="0.00" y="0.00" font-size="27.3" text-anchor="end" transform="translate(179.30 2161.40) scale(0.975 1)">6</text>
<path d="M214.35,2425.20V2379.93H252.45V2425.20" fill="#fff" stroke="#000" stroke-width="3.4"/>
<circle cx="218.10" cy="2379.93" r="7.1" fill="#000"/>
<circle cx="233.40" cy="2379.93" r="7.1" fill="#000"/>
<circle cx="248.70" cy="2379.93" r="7.1" fill="#000"/>
<line x1="233.40" y1="2425.20" x2="233.40" y2="2437.20" stroke="#000" stroke-width="3.6"/>
<path d="M277.05,2425.20V2358.66H315.15V2425.20" fill="#fff" stroke="#ff0000" stroke-width="3.4"/>
<line x1="296.10" y1="2370.43" x2="296.10" y2="2346.89" stroke="#ff0000" stroke-width="3.2"/>
<line x1="285.60" y1="2346.89" x2="306.60" y2="2346.89" stroke="#ff0000" stroke-width="3.2"/>
<line x1="285.60" y1="2370.43" x2="306.60" y2="2370.43" stroke="#ff0000" stroke-width="3.2"/>
<circle cx="280.80" cy="2365.45" r="7.1" fill="#ff0000"/>
<circle cx="296.10" cy="2342.81" r="7.1" fill="#ff0000"/>
<circle cx="311.40" cy="2362.28" r="7.1" fill="#ff0000"/>
<line x1="296.10" y1="2425.20" x2="296.10" y2="2437.20" stroke="#000" stroke-width="3.6"/>
<path d="M339.75,2425.20V2321.09H377.85V2425.20" fill="#fff" stroke="#0000ff" stroke-width="3.4"/>
<line x1="358.80" y1="2339.19" x2="358.80" y2="2302.98" stroke="#0000ff" stroke-width="3.2"/>
<line x1="348.30" y1="2302.98" x2="369.30" y2="2302.98" stroke="#0000ff" stroke-width="3.2"/>
<line x1="348.30" y1="2339.19" x2="369.30" y2="2339.19" stroke="#0000ff" stroke-width="3.2"/>
<circle cx="343.50" cy="2310.22" r="7.1" fill="#0000ff"/>
<circle cx="358.80" cy="2340.55" r="7.1" fill="#0000ff"/>
<circle cx="374.10" cy="2310.22" r="7.1" fill="#0000ff"/>
<line x1="358.80" y1="2425.20" x2="358.80" y2="2437.20" stroke="#000" stroke-width="3.6"/>
<path d="M402.75,2425.20V2197.96H440.85V2425.20" fill="#fff" stroke="#aa00e6" stroke-width="3.4"/>
<line x1="421.80" y1="2222.41" x2="421.80" y2="2173.52" stroke="#aa00e6" stroke-width="3.2"/>
<line x1="411.30" y1="2173.52" x2="432.30" y2="2173.52" stroke="#aa00e6" stroke-width="3.2"/>
<line x1="411.30" y1="2222.41" x2="432.30" y2="2222.41" stroke="#aa00e6" stroke-width="3.2"/>
<circle cx="406.50" cy="2180.76" r="7.1" fill="#aa00e6"/>
<circle cx="421.80" cy="2186.19" r="7.1" fill="#aa00e6"/>
<circle cx="421.80" cy="2224.22" r="7.1" fill="#aa00e6"/>
<line x1="421.80" y1="2425.20" x2="421.80" y2="2437.20" stroke="#000" stroke-width="3.6"/>
<line x1="231.70" y1="2290.00" x2="359.50" y2="2290.00" stroke="#000" stroke-width="3.2"/>
<text x="295.80" y="2293.50" font-size="25" text-anchor="middle" style="font-weight:normal" letter-spacing="0.6">**</text>
<line x1="356.00" y1="2161.10" x2="421.80" y2="2161.10" stroke="#000" stroke-width="3.2"/>
<text x="389.10" y="2164.60" font-size="25" text-anchor="middle" style="font-weight:normal" letter-spacing="0.6">***</text>
<text x="0.00" y="0.00" font-size="27.5" text-anchor="middle" transform="translate(328.50 2130.50) scale(0.962 1)">AGS</text>
<text x="153.10" y="2273.60" font-size="26.6" text-anchor="middle" transform="rotate(-90 153.10 2273.60)">Relative lipid ROS</text>
<text x="0.00" y="0.00" font-size="27.5" text-anchor="end" transform="translate(217.30 2462.50) scale(0.962 1)">LF3(10μM)</text>
<text x="0.00" y="0.00" font-size="27.5" text-anchor="end" transform="translate(218.70 2489.50) scale(0.962 1)">Erastin(10μM)</text>
<text x="233.40" y="2460.46" font-size="26.5" text-anchor="middle">-</text>
<text x="233.40" y="2486.96" font-size="26.5" text-anchor="middle">-</text>
<text x="296.10" y="2462.45" font-size="26.5" text-anchor="middle">+</text>
<text x="296.10" y="2486.96" font-size="26.5" text-anchor="middle">-</text>
<text x="358.80" y="2460.46" font-size="26.5" text-anchor="middle">-</text>
<text x="358.80" y="2488.95" font-size="26.5" text-anchor="middle">+</text>
<text x="421.80" y="2462.45" font-size="26.5" text-anchor="middle">+</text>
<text x="421.80" y="2488.95" font-size="26.5" text-anchor="middle">+</text>
<line x1="638.40" y1="2425.90" x2="650.40" y2="2425.90" stroke="#000" stroke-width="3.6"/>
<text x="0.00" y="0.00" font-size="27.3" text-anchor="end" transform="translate(637.90 2433.70) scale(0.975 1)">0</text>
<line x1="638.40" y1="2335.37" x2="650.40" y2="2335.37" stroke="#000" stroke-width="3.6"/>
<text x="0.00" y="0.00" font-size="27.3" text-anchor="end" transform="translate(637.90 2343.17) scale(0.975 1)">2</text>
<line x1="638.40" y1="2244.83" x2="650.40" y2="2244.83" stroke="#000" stroke-width="3.6"/>
<text x="0.00" y="0.00" font-size="27.3" text-anchor="end" transform="translate(637.90 2252.63) scale(0.975 1)">4</text>
<line x1="638.40" y1="2154.30" x2="650.40" y2="2154.30" stroke="#000" stroke-width="3.6"/>
<text x="0.00" y="0.00" font-size="27.3" text-anchor="end" transform="translate(637.90 2162.10) scale(0.975 1)">6</text>
<path d="M673.95,2425.90V2380.63H712.05V2425.90" fill="#fff" stroke="#000" stroke-width="3.4"/>
<circle cx="677.70" cy="2380.63" r="7.1" fill="#000"/>
<circle cx="693.00" cy="2380.63" r="7.1" fill="#000"/>
<circle cx="708.30" cy="2380.63" r="7.1" fill="#000"/>
<line x1="693.00" y1="2425.90" x2="693.00" y2="2437.90" stroke="#000" stroke-width="3.6"/>
<path d="M736.25,2425.90V2364.34H774.35V2425.90" fill="#fff" stroke="#ff0000" stroke-width="3.4"/>
<line x1="755.30" y1="2374.30" x2="755.30" y2="2354.38" stroke="#ff0000" stroke-width="3.2"/>
<line x1="744.80" y1="2354.38" x2="765.80" y2="2354.38" stroke="#ff0000" stroke-width="3.2"/>
<line x1="744.80" y1="2374.30" x2="765.80" y2="2374.30" stroke="#ff0000" stroke-width="3.2"/>
<circle cx="740.00" cy="2370.67" r="7.1" fill="#ff0000"/>
<circle cx="755.30" cy="2353.02" r="7.1" fill="#ff0000"/>
<circle cx="770.60" cy="2365.70" r="7.1" fill="#ff0000"/>
<line x1="755.30" y1="2425.90" x2="755.30" y2="2437.90" stroke="#000" stroke-width="3.6"/>
<path d="M799.35,2425.90V2320.43H837.45V2425.90" fill="#fff" stroke="#0000ff" stroke-width="3.4"/>
<line x1="818.40" y1="2337.18" x2="818.40" y2="2303.68" stroke="#0000ff" stroke-width="3.2"/>
<line x1="807.90" y1="2303.68" x2="828.90" y2="2303.68" stroke="#0000ff" stroke-width="3.2"/>
<line x1="807.90" y1="2337.18" x2="828.90" y2="2337.18" stroke="#0000ff" stroke-width="3.2"/>
<circle cx="802.90" cy="2333.10" r="7.1" fill="#0000ff"/>
<circle cx="818.40" cy="2300.96" r="7.1" fill="#0000ff"/>
<circle cx="834.40" cy="2323.60" r="7.1" fill="#0000ff"/>
<line x1="818.40" y1="2425.90" x2="818.40" y2="2437.90" stroke="#000" stroke-width="3.6"/>
<path d="M861.95,2425.90V2227.18H900.05V2425.90" fill="#fff" stroke="#aa00e6" stroke-width="3.4"/>
<line x1="881.00" y1="2247.55" x2="881.00" y2="2206.81" stroke="#aa00e6" stroke-width="3.2"/>
<line x1="870.50" y1="2206.81" x2="891.50" y2="2206.81" stroke="#aa00e6" stroke-width="3.2"/>
<line x1="870.50" y1="2247.55" x2="891.50" y2="2247.55" stroke="#aa00e6" stroke-width="3.2"/>
<circle cx="881.00" cy="2204.55" r="7.1" fill="#aa00e6"/>
<circle cx="881.00" cy="2228.08" r="7.1" fill="#aa00e6"/>
<circle cx="881.00" cy="2244.83" r="7.1" fill="#aa00e6"/>
<line x1="881.00" y1="2425.90" x2="881.00" y2="2437.90" stroke="#000" stroke-width="3.6"/>
<line x1="691.20" y1="2281.40" x2="819.00" y2="2281.40" stroke="#000" stroke-width="3.2"/>
<text x="755.30" y="2284.90" font-size="25" text-anchor="middle" style="font-weight:normal" letter-spacing="0.6">**</text>
<line x1="815.00" y1="2184.30" x2="881.00" y2="2184.30" stroke="#000" stroke-width="3.2"/>
<text x="848.20" y="2187.80" font-size="25" text-anchor="middle" style="font-weight:normal" letter-spacing="0.6">***</text>
<text x="0.00" y="0.00" font-size="27.5" text-anchor="middle" transform="translate(787.50 2127.70) scale(0.962 1)">HGC-27</text>
<text x="612.30" y="2274.60" font-size="26.6" text-anchor="middle" transform="rotate(-90 612.30 2274.60)">Relative lipid ROS</text>
<text x="0.00" y="0.00" font-size="27.5" text-anchor="end" transform="translate(678.70 2461.80) scale(0.962 1)">LF3(2μM)</text>
<text x="0.00" y="0.00" font-size="27.5" text-anchor="end" transform="translate(678.70 2489.90) scale(0.962 1)">Erastin(1μM)</text>
<text x="693.00" y="2458.86" font-size="26.5" text-anchor="middle">-</text>
<text x="693.00" y="2486.06" font-size="26.5" text-anchor="middle">-</text>
<text x="755.30" y="2460.85" font-size="26.5" text-anchor="middle">+</text>
<text x="755.30" y="2486.06" font-size="26.5" text-anchor="middle">-</text>
<text x="818.40" y="2458.86" font-size="26.5" text-anchor="middle">-</text>
<text x="818.40" y="2488.05" font-size="26.5" text-anchor="middle">+</text>
<text x="881.00" y="2460.85" font-size="26.5" text-anchor="middle">+</text>
<text x="881.00" y="2488.05" font-size="26.5" text-anchor="middle">+</text>
<line x1="1103.70" y1="2425.90" x2="1115.70" y2="2425.90" stroke="#000" stroke-width="3.6"/>
<text x="0.00" y="0.00" font-size="27.3" text-anchor="end" transform="translate(1103.20 2433.70) scale(0.975 1)">0</text>
<line x1="1103.70" y1="2371.58" x2="1115.70" y2="2371.58" stroke="#000" stroke-width="3.6"/>
<text x="0.00" y="0.00" font-size="27.3" text-anchor="end" transform="translate(1103.20 2379.38) scale(0.975 1)">1</text>
<line x1="1103.70" y1="2317.26" x2="1115.70" y2="2317.26" stroke="#000" stroke-width="3.6"/>
<text x="0.00" y="0.00" font-size="27.3" text-anchor="end" transform="translate(1103.20 2325.06) scale(0.975 1)">2</text>
<line x1="1103.70" y1="2262.94" x2="1115.70" y2="2262.94" stroke="#000" stroke-width="3.6"/>
<text x="0.00" y="0.00" font-size="27.3" text-anchor="end" transform="translate(1103.20 2270.74) scale(0.975 1)">3</text>
<line x1="1103.70" y1="2208.62" x2="1115.70" y2="2208.62" stroke="#000" stroke-width="3.6"/>
<text x="0.00" y="0.00" font-size="27.3" text-anchor="end" transform="translate(1103.20 2216.42) scale(0.975 1)">4</text>
<line x1="1103.70" y1="2154.30" x2="1115.70" y2="2154.30" stroke="#000" stroke-width="3.6"/>
<text x="0.00" y="0.00" font-size="27.3" text-anchor="end" transform="translate(1103.20 2162.10) scale(0.975 1)">5</text>
<path d="M1137.35,2425.90V2371.58H1175.45V2425.90" fill="#fff" stroke="#000" stroke-width="3.4"/>
<circle cx="1141.10" cy="2371.58" r="7.1" fill="#000"/>
<circle cx="1156.40" cy="2371.58" r="7.1" fill="#000"/>
<circle cx="1171.70" cy="2371.58" r="7.1" fill="#000"/>
<line x1="1156.40" y1="2425.90" x2="1156.40" y2="2437.90" stroke="#000" stroke-width="3.6"/>
<path d="M1200.25,2425.90V2346.05H1238.35V2425.90" fill="#fff" stroke="#ff0000" stroke-width="3.4"/>
<line x1="1219.30" y1="2351.48" x2="1219.30" y2="2340.62" stroke="#ff0000" stroke-width="3.2"/>
<line x1="1208.80" y1="2340.62" x2="1229.80" y2="2340.62" stroke="#ff0000" stroke-width="3.2"/>
<line x1="1208.80" y1="2351.48" x2="1229.80" y2="2351.48" stroke="#ff0000" stroke-width="3.2"/>
<circle cx="1203.80" cy="2349.31" r="7.1" fill="#ff0000"/>
<circle cx="1219.30" cy="2337.36" r="7.1" fill="#ff0000"/>
<circle cx="1234.80" cy="2346.05" r="7.1" fill="#ff0000"/>
<line x1="1219.30" y1="2425.90" x2="1219.30" y2="2437.90" stroke="#000" stroke-width="3.6"/>
<path d="M1263.35,2425.90V2310.20H1301.45V2425.90" fill="#fff" stroke="#0000ff" stroke-width="3.4"/>
<line x1="1282.40" y1="2324.86" x2="1282.40" y2="2295.53" stroke="#0000ff" stroke-width="3.2"/>
<line x1="1271.90" y1="2295.53" x2="1292.90" y2="2295.53" stroke="#0000ff" stroke-width="3.2"/>
<line x1="1271.90" y1="2324.86" x2="1292.90" y2="2324.86" stroke="#0000ff" stroke-width="3.2"/>
<circle cx="1266.90" cy="2322.15" r="7.1" fill="#0000ff"/>
<circle cx="1282.40" cy="2293.90" r="7.1" fill="#0000ff"/>
<circle cx="1297.90" cy="2310.74" r="7.1" fill="#0000ff"/>
<line x1="1282.40" y1="2425.90" x2="1282.40" y2="2437.90" stroke="#000" stroke-width="3.6"/>
<path d="M1326.35,2425.90V2194.50H1364.45V2425.90" fill="#fff" stroke="#aa00e6" stroke-width="3.4"/>
<line x1="1345.40" y1="2217.31" x2="1345.40" y2="2171.68" stroke="#aa00e6" stroke-width="3.2"/>
<line x1="1334.90" y1="2171.68" x2="1355.90" y2="2171.68" stroke="#aa00e6" stroke-width="3.2"/>
<line x1="1334.90" y1="2217.31" x2="1355.90" y2="2217.31" stroke="#aa00e6" stroke-width="3.2"/>
<circle cx="1345.40" cy="2170.05" r="7.1" fill="#aa00e6"/>
<circle cx="1345.40" cy="2195.04" r="7.1" fill="#aa00e6"/>
<circle cx="1345.40" cy="2216.77" r="7.1" fill="#aa00e6"/>
<line x1="1345.40" y1="2425.90" x2="1345.40" y2="2437.90" stroke="#000" stroke-width="3.6"/>
<line x1="1154.90" y1="2272.90" x2="1283.30" y2="2272.90" stroke="#000" stroke-width="3.2"/>
<text x="1219.30" y="2276.40" font-size="25" text-anchor="middle" style="font-weight:normal" letter-spacing="0.6">**</text>
<line x1="1278.90" y1="2152.00" x2="1344.70" y2="2152.00" stroke="#000" stroke-width="3.2"/>
<text x="1312.00" y="2155.50" font-size="25" text-anchor="middle" style="font-weight:normal" letter-spacing="0.6">***</text>
<text x="0.00" y="0.00" font-size="27.5" text-anchor="middle" transform="translate(1251.90 2126.00) scale(0.962 1)">MKN-45</text>
<text x="1076.00" y="2274.60" font-size="26.6" text-anchor="middle" transform="rotate(-90 1076.00 2274.60)">Relative lipid ROS</text>
<text x="0.00" y="0.00" font-size="27.5" text-anchor="end" transform="translate(1142.30 2461.10) scale(0.962 1)">LF3(10μM)</text>
<text x="0.00" y="0.00" font-size="27.5" text-anchor="end" transform="translate(1143.70 2488.80) scale(0.962 1)">Erastin(10μM)</text>
<text x="1156.40" y="2456.46" font-size="26.5" text-anchor="middle">-</text>
<text x="1156.40" y="2482.46" font-size="26.5" text-anchor="middle">-</text>
<text x="1219.30" y="2458.45" font-size="26.5" text-anchor="middle">+</text>
<text x="1219.30" y="2482.46" font-size="26.5" text-anchor="middle">-</text>
<text x="1282.40" y="2456.46" font-size="26.5" text-anchor="middle">-</text>
<text x="1282.40" y="2484.45" font-size="26.5" text-anchor="middle">+</text>
<text x="1345.40" y="2458.45" font-size="26.5" text-anchor="middle">+</text>
<text x="1345.40" y="2484.45" font-size="26.5" text-anchor="middle">+</text>
<line x1="128.00" y1="53.10" x2="128.00" y2="340.70" stroke="#000" stroke-width="3.6"/>
<line x1="116.20" y1="338.90" x2="470.00" y2="338.90" stroke="#000" stroke-width="3.6"/>
<line x1="590.40" y1="50.10" x2="590.40" y2="341.10" stroke="#000" stroke-width="3.6"/>
<line x1="578.80" y1="339.30" x2="936.60" y2="339.30" stroke="#000" stroke-width="3.6"/>
<line x1="1062.00" y1="50.10" x2="1062.00" y2="340.50" stroke="#000" stroke-width="3.6"/>
<line x1="1050.80" y1="338.70" x2="1404.50" y2="338.70" stroke="#000" stroke-width="3.6"/>
<line x1="124.60" y1="618.20" x2="124.60" y2="888.50" stroke="#000" stroke-width="3.6"/>
<line x1="112.40" y1="886.70" x2="651.00" y2="886.70" stroke="#000" stroke-width="3.6"/>
<line x1="801.90" y1="588.90" x2="801.90" y2="887.30" stroke="#000" stroke-width="3.6"/>
<line x1="790.00" y1="885.50" x2="1359.00" y2="885.50" stroke="#000" stroke-width="3.6"/>
<line x1="191.50" y1="1257.80" x2="191.50" y2="1537.00" stroke="#000" stroke-width="3.6"/>
<line x1="178.90" y1="1535.20" x2="466.80" y2="1535.20" stroke="#000" stroke-width="3.6"/>
<line x1="650.40" y1="1256.10" x2="650.40" y2="1535.70" stroke="#000" stroke-width="3.6"/>
<line x1="639.50" y1="1533.90" x2="926.30" y2="1533.90" stroke="#000" stroke-width="3.6"/>
<line x1="1115.70" y1="1257.50" x2="1115.70" y2="1536.40" stroke="#000" stroke-width="3.6"/>
<line x1="1104.50" y1="1534.60" x2="1391.70" y2="1534.60" stroke="#000" stroke-width="3.6"/>
<line x1="193.50" y1="1700.00" x2="193.50" y2="1977.80" stroke="#000" stroke-width="3.6"/>
<line x1="180.60" y1="1976.00" x2="469.50" y2="1976.00" stroke="#000" stroke-width="3.6"/>
<line x1="652.00" y1="1701.70" x2="652.00" y2="1980.20" stroke="#000" stroke-width="3.6"/>
<line x1="640.10" y1="1978.40" x2="927.00" y2="1978.40" stroke="#000" stroke-width="3.6"/>
<line x1="1117.40" y1="1700.70" x2="1117.40" y2="1977.80" stroke="#000" stroke-width="3.6"/>
<line x1="1106.20" y1="1976.00" x2="1393.00" y2="1976.00" stroke="#000" stroke-width="3.6"/>
<line x1="191.80" y1="2151.80" x2="191.80" y2="2427.00" stroke="#000" stroke-width="3.6"/>
<line x1="179.90" y1="2425.20" x2="464.00" y2="2425.20" stroke="#000" stroke-width="3.6"/>
<line x1="650.40" y1="2152.50" x2="650.40" y2="2427.70" stroke="#000" stroke-width="3.6"/>
<line x1="639.50" y1="2425.90" x2="923.60" y2="2425.90" stroke="#000" stroke-width="3.6"/>
<line x1="1115.70" y1="2152.50" x2="1115.70" y2="2427.70" stroke="#000" stroke-width="3.6"/>
<line x1="1102.80" y1="2425.90" x2="1388.30" y2="2425.90" stroke="#000" stroke-width="3.6"/>
</svg>
</body></html>
